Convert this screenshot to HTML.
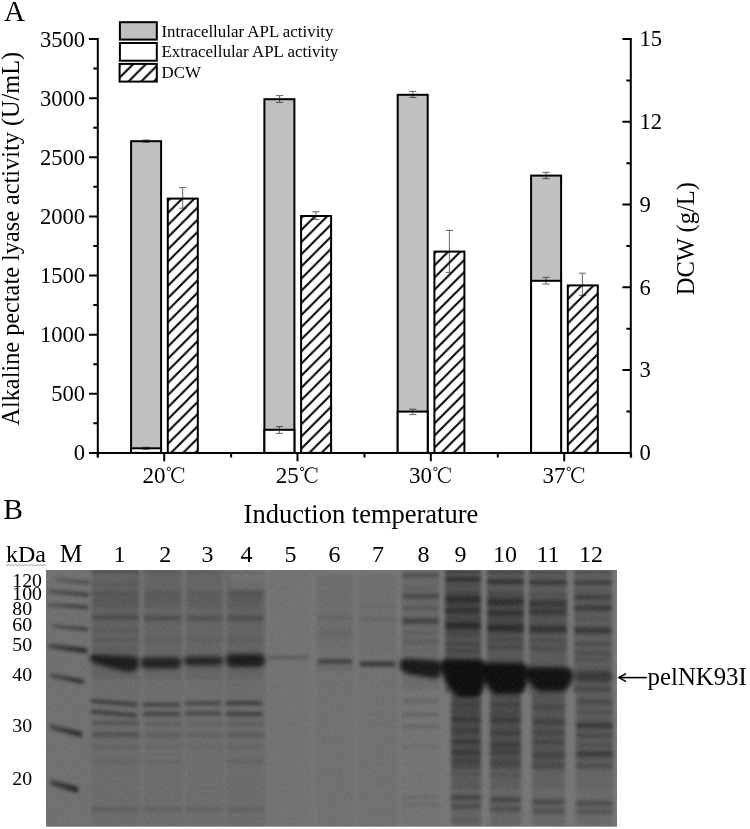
<!DOCTYPE html><html><head><meta charset="utf-8"><style>html,body{margin:0;padding:0;background:#fff;width:750px;height:829px;overflow:hidden}svg{display:block;will-change:transform}text{font-family:"Liberation Serif",serif;fill:#000}</style></head><body>
<svg width="750" height="829" viewBox="0 0 750 829">
<defs>
<pattern id="hat0" patternUnits="userSpaceOnUse" width="12.7" height="12.7" x="6.800" y="0"><rect width="12.7" height="12.7" fill="#fff"/><path d="M-3,3 L3,-3 M0,12.7 L12.7,0 M9.7,15.7 L15.7,9.7" stroke="#000" stroke-width="2.0"/></pattern>
<pattern id="hat1" patternUnits="userSpaceOnUse" width="12.15" height="12.15" x="4.200" y="0"><rect width="12.15" height="12.15" fill="#fff"/><path d="M-3,3 L3,-3 M0,12.15 L12.15,0 M9.15,15.15 L15.15,9.15" stroke="#000" stroke-width="2.0"/></pattern>
<pattern id="hat2" patternUnits="userSpaceOnUse" width="12.15" height="12.15" x="8.850" y="0"><rect width="12.15" height="12.15" fill="#fff"/><path d="M-3,3 L3,-3 M0,12.15 L12.15,0 M9.15,15.15 L15.15,9.15" stroke="#000" stroke-width="2.0"/></pattern>
<pattern id="hat3" patternUnits="userSpaceOnUse" width="12.15" height="12.15" x="7.350" y="0"><rect width="12.15" height="12.15" fill="#fff"/><path d="M-3,3 L3,-3 M0,12.15 L12.15,0 M9.15,15.15 L15.15,9.15" stroke="#000" stroke-width="2.0"/></pattern>
<pattern id="hat4" patternUnits="userSpaceOnUse" width="12.15" height="12.15" x="4.250" y="0"><rect width="12.15" height="12.15" fill="#fff"/><path d="M-3,3 L3,-3 M0,12.15 L12.15,0 M9.15,15.15 L15.15,9.15" stroke="#000" stroke-width="2.0"/></pattern>
</defs>
<text x="4" y="21.2" font-size="29.2">A</text>
<rect x="131.10" y="141.20" width="30.00" height="311.70" fill="#c0c0c0" stroke="#000" stroke-width="2"/>
<rect x="131.10" y="448.30" width="30.00" height="4.60" fill="#fff" stroke="#000" stroke-width="2"/>
<rect x="167.80" y="198.60" width="30.00" height="254.30" fill="url(#hat1)" stroke="#000" stroke-width="2"/>
<rect x="264.40" y="99.20" width="30.00" height="353.70" fill="#c0c0c0" stroke="#000" stroke-width="2"/>
<rect x="264.40" y="429.80" width="30.00" height="23.10" fill="#fff" stroke="#000" stroke-width="2"/>
<rect x="301.10" y="216.00" width="30.00" height="236.90" fill="url(#hat2)" stroke="#000" stroke-width="2"/>
<rect x="397.70" y="94.80" width="30.00" height="358.10" fill="#c0c0c0" stroke="#000" stroke-width="2"/>
<rect x="397.70" y="411.60" width="30.00" height="41.30" fill="#fff" stroke="#000" stroke-width="2"/>
<rect x="434.40" y="251.60" width="30.00" height="201.30" fill="url(#hat3)" stroke="#000" stroke-width="2"/>
<rect x="531.10" y="175.60" width="30.00" height="277.30" fill="#c0c0c0" stroke="#000" stroke-width="2"/>
<rect x="531.10" y="280.80" width="30.00" height="172.10" fill="#fff" stroke="#000" stroke-width="2"/>
<rect x="567.80" y="285.40" width="30.00" height="167.50" fill="url(#hat4)" stroke="#000" stroke-width="2"/>
<path d="M142.50,140.00H149.70M146.10,140.00V142.20M142.50,142.20H149.70" stroke="#666" stroke-width="1" fill="none" style="mix-blend-mode:multiply"/>
<path d="M276.00,95.60H283.20M279.60,95.60V102.40M276.00,102.40H283.20" stroke="#666" stroke-width="1" fill="none" style="mix-blend-mode:multiply"/>
<path d="M409.20,91.40H416.40M412.80,91.40V97.40M409.20,97.40H416.40" stroke="#666" stroke-width="1" fill="none" style="mix-blend-mode:multiply"/>
<path d="M542.40,172.40H549.60M546.00,172.40V178.60M542.40,178.60H549.60" stroke="#666" stroke-width="1" fill="none" style="mix-blend-mode:multiply"/>
<path d="M142.50,447.30H149.70M146.10,447.30V449.30M142.50,449.30H149.70" stroke="#666" stroke-width="1" fill="none" style="mix-blend-mode:multiply"/>
<path d="M275.80,426.60H283.00M279.40,426.60V433.40M275.80,433.40H283.00" stroke="#666" stroke-width="1" fill="none" style="mix-blend-mode:multiply"/>
<path d="M409.20,409.20H416.40M412.80,409.20V414.60M409.20,414.60H416.40" stroke="#666" stroke-width="1" fill="none" style="mix-blend-mode:multiply"/>
<path d="M542.40,277.40H549.60M546.00,277.40V284.00M542.40,284.00H549.60" stroke="#666" stroke-width="1" fill="none" style="mix-blend-mode:multiply"/>
<path d="M179.10,187.60H186.30M182.70,187.60V208.20M179.10,208.20H186.30" stroke="#666" stroke-width="1" fill="none" style="mix-blend-mode:multiply"/>
<path d="M312.20,211.80H319.40M315.80,211.80V219.40M312.20,219.40H319.40" stroke="#666" stroke-width="1" fill="none" style="mix-blend-mode:multiply"/>
<path d="M445.80,230.40H453.00M449.40,230.40V272.40M445.80,272.40H453.00" stroke="#666" stroke-width="1" fill="none" style="mix-blend-mode:multiply"/>
<path d="M578.80,273.20H586.00M582.40,273.20V295.40M578.80,295.40H586.00" stroke="#666" stroke-width="1" fill="none" style="mix-blend-mode:multiply"/>
<path d="M97.8,38.0 V457.59999999999997 M630.8,38.0 V457.59999999999997 M89 452.9 H631.8" stroke="#000" stroke-width="2" fill="none"/>
<path d="M89,452.90H97.8 M93.3,423.34H97.8 M89,393.77H97.8 M93.3,364.21H97.8 M89,334.64H97.8 M93.3,305.08H97.8 M89,275.51H97.8 M93.3,245.95H97.8 M89,216.39H97.8 M93.3,186.82H97.8 M89,157.26H97.8 M93.3,127.69H97.8 M89,98.13H97.8 M93.3,68.56H97.8 M89,39.00H97.8 M622.4,452.90H630.8 M626.4,411.51H630.8 M622.4,370.12H630.8 M626.4,328.73H630.8 M622.4,287.34H630.8 M626.4,245.95H630.8 M622.4,204.56H630.8 M626.4,163.17H630.8 M622.4,121.78H630.8 M626.4,80.39H630.8 M622.4,39.00H630.8 M164.2,452.9V461.3 M297.5,452.9V461.3 M430.8,452.9V461.3 M564.2,452.9V461.3 M97.80,452.9V457.6 M231.13,452.9V457.6 M364.46,452.9V457.6 M497.79,452.9V457.6 M631.12,452.9V457.6" stroke="#000" stroke-width="2" fill="none"/>
<text x="85.1" y="460.40" font-size="22.6" text-anchor="end">0</text>
<text x="85.1" y="401.27" font-size="22.6" text-anchor="end">500</text>
<text x="85.1" y="342.14" font-size="22.6" text-anchor="end">1000</text>
<text x="85.1" y="283.01" font-size="22.6" text-anchor="end">1500</text>
<text x="85.1" y="223.89" font-size="22.6" text-anchor="end">2000</text>
<text x="85.1" y="164.76" font-size="22.6" text-anchor="end">2500</text>
<text x="85.1" y="105.63" font-size="22.6" text-anchor="end">3000</text>
<text x="85.1" y="46.50" font-size="22.6" text-anchor="end">3500</text>
<text x="639.4" y="460.20" font-size="22.6">0</text>
<text x="639.4" y="377.42" font-size="22.6">3</text>
<text x="639.4" y="294.64" font-size="22.6">6</text>
<text x="639.4" y="211.86" font-size="22.6">9</text>
<text x="639.4" y="129.08" font-size="22.6">12</text>
<text x="639.4" y="46.30" font-size="22.6">15</text>
<text x="142.50" y="483.3" font-size="23">20</text>
<circle cx="168.80" cy="468.95" r="1.7" fill="none" stroke="#000" stroke-width="0.85"/>
<path d="M183.19,469.06 L182.41,468.43 L181.55,467.93 L180.64,467.55 L179.70,467.31 L178.73,467.20 L177.76,467.24 L176.80,467.42 L175.87,467.73 L174.99,468.18 L174.17,468.75 L173.43,469.43 L172.77,470.22 L172.22,471.09 L171.78,472.04 L171.46,473.04 L171.27,474.07 L171.20,475.13 L171.26,476.19 L171.45,477.23 L171.77,478.23 L172.20,479.17 L172.75,480.05 L173.40,480.84 L174.14,481.53 L174.96,482.10 L175.84,482.55 L176.76,482.87 L177.72,483.05 L178.69,483.10 L179.66,483.00 L180.61,482.76 L181.52,482.39 L182.38,481.89 L183.17,481.26 L183.87,480.54 L184.48,479.71 L183.82,479.19 L183.33,479.93 L182.75,480.57 L182.11,481.12 L181.41,481.57 L180.67,481.90 L179.90,482.11 L179.11,482.20 L178.32,482.16 L177.54,482.00 L176.78,481.71 L176.06,481.31 L175.40,480.80 L174.79,480.20 L174.26,479.50 L173.82,478.72 L173.46,477.88 L173.21,476.99 L173.05,476.07 L173.00,475.13 L173.05,474.20 L173.21,473.28 L173.48,472.39 L173.83,471.55 L174.28,470.78 L174.81,470.08 L175.42,469.47 L176.09,468.97 L176.81,468.57 L177.56,468.29 L178.35,468.14 L179.14,468.10 L179.93,468.20 L180.70,468.41 L181.44,468.75 L182.13,469.19 L182.77,469.75Z" fill="#000"/>
<path d="M183.65,467.6 V472.6" stroke="#000" stroke-width="0.9"/>
<text x="275.80" y="483.3" font-size="23">25</text>
<circle cx="302.10" cy="468.95" r="1.7" fill="none" stroke="#000" stroke-width="0.85"/>
<path d="M316.49,469.06 L315.71,468.43 L314.85,467.93 L313.94,467.55 L313.00,467.31 L312.03,467.20 L311.06,467.24 L310.10,467.42 L309.17,467.73 L308.29,468.18 L307.47,468.75 L306.73,469.43 L306.07,470.22 L305.52,471.09 L305.08,472.04 L304.76,473.04 L304.57,474.07 L304.50,475.13 L304.56,476.19 L304.75,477.23 L305.07,478.23 L305.50,479.17 L306.05,480.05 L306.70,480.84 L307.44,481.53 L308.26,482.10 L309.14,482.55 L310.06,482.87 L311.02,483.05 L311.99,483.10 L312.96,483.00 L313.91,482.76 L314.82,482.39 L315.68,481.89 L316.47,481.26 L317.17,480.54 L317.78,479.71 L317.12,479.19 L316.63,479.93 L316.05,480.57 L315.41,481.12 L314.71,481.57 L313.97,481.90 L313.20,482.11 L312.41,482.20 L311.62,482.16 L310.84,482.00 L310.08,481.71 L309.36,481.31 L308.70,480.80 L308.09,480.20 L307.56,479.50 L307.12,478.72 L306.76,477.88 L306.51,476.99 L306.35,476.07 L306.30,475.13 L306.35,474.20 L306.51,473.28 L306.78,472.39 L307.13,471.55 L307.58,470.78 L308.11,470.08 L308.72,469.47 L309.39,468.97 L310.11,468.57 L310.86,468.29 L311.65,468.14 L312.44,468.10 L313.23,468.20 L314.00,468.41 L314.74,468.75 L315.43,469.19 L316.07,469.75Z" fill="#000"/>
<path d="M316.95,467.6 V472.6" stroke="#000" stroke-width="0.9"/>
<text x="409.10" y="483.3" font-size="23">30</text>
<circle cx="435.40" cy="468.95" r="1.7" fill="none" stroke="#000" stroke-width="0.85"/>
<path d="M449.79,469.06 L449.01,468.43 L448.15,467.93 L447.24,467.55 L446.30,467.31 L445.33,467.20 L444.36,467.24 L443.40,467.42 L442.47,467.73 L441.59,468.18 L440.77,468.75 L440.03,469.43 L439.37,470.22 L438.82,471.09 L438.38,472.04 L438.06,473.04 L437.87,474.07 L437.80,475.13 L437.86,476.19 L438.05,477.23 L438.37,478.23 L438.80,479.17 L439.35,480.05 L440.00,480.84 L440.74,481.53 L441.56,482.10 L442.44,482.55 L443.36,482.87 L444.32,483.05 L445.29,483.10 L446.26,483.00 L447.21,482.76 L448.12,482.39 L448.98,481.89 L449.77,481.26 L450.47,480.54 L451.08,479.71 L450.42,479.19 L449.93,479.93 L449.35,480.57 L448.71,481.12 L448.01,481.57 L447.27,481.90 L446.50,482.11 L445.71,482.20 L444.92,482.16 L444.14,482.00 L443.38,481.71 L442.66,481.31 L442.00,480.80 L441.39,480.20 L440.86,479.50 L440.42,478.72 L440.06,477.88 L439.81,476.99 L439.65,476.07 L439.60,475.13 L439.65,474.20 L439.81,473.28 L440.08,472.39 L440.43,471.55 L440.88,470.78 L441.41,470.08 L442.02,469.47 L442.69,468.97 L443.41,468.57 L444.16,468.29 L444.95,468.14 L445.74,468.10 L446.53,468.20 L447.30,468.41 L448.04,468.75 L448.73,469.19 L449.37,469.75Z" fill="#000"/>
<path d="M450.25,467.6 V472.6" stroke="#000" stroke-width="0.9"/>
<text x="542.50" y="483.3" font-size="23">37</text>
<circle cx="568.80" cy="468.95" r="1.7" fill="none" stroke="#000" stroke-width="0.85"/>
<path d="M583.19,469.06 L582.41,468.43 L581.55,467.93 L580.64,467.55 L579.70,467.31 L578.73,467.20 L577.76,467.24 L576.80,467.42 L575.87,467.73 L574.99,468.18 L574.17,468.75 L573.43,469.43 L572.77,470.22 L572.22,471.09 L571.78,472.04 L571.46,473.04 L571.27,474.07 L571.20,475.13 L571.26,476.19 L571.45,477.23 L571.77,478.23 L572.20,479.17 L572.75,480.05 L573.40,480.84 L574.14,481.53 L574.96,482.10 L575.84,482.55 L576.76,482.87 L577.72,483.05 L578.69,483.10 L579.66,483.00 L580.61,482.76 L581.52,482.39 L582.38,481.89 L583.17,481.26 L583.87,480.54 L584.48,479.71 L583.82,479.19 L583.33,479.93 L582.75,480.57 L582.11,481.12 L581.41,481.57 L580.67,481.90 L579.90,482.11 L579.11,482.20 L578.32,482.16 L577.54,482.00 L576.78,481.71 L576.06,481.31 L575.40,480.80 L574.79,480.20 L574.26,479.50 L573.82,478.72 L573.46,477.88 L573.21,476.99 L573.05,476.07 L573.00,475.13 L573.05,474.20 L573.21,473.28 L573.48,472.39 L573.83,471.55 L574.28,470.78 L574.81,470.08 L575.42,469.47 L576.09,468.97 L576.81,468.57 L577.56,468.29 L578.35,468.14 L579.14,468.10 L579.93,468.20 L580.70,468.41 L581.44,468.75 L582.13,469.19 L582.77,469.75Z" fill="#000"/>
<path d="M583.65,467.6 V472.6" stroke="#000" stroke-width="0.9"/>
<text x="243.6" y="523" font-size="26.5">Induction temperature</text>
<text transform="translate(18.9,425.6) rotate(-90)" font-size="24.3">Alkaline pectate lyase activity (U/mL)</text>
<text transform="translate(693.6,295.3) rotate(-90)" font-size="24.5">DCW (g/L)</text>
<rect x="119.9" y="22.2" width="36.9" height="17.4" fill="#c0c0c0" stroke="#000" stroke-width="2"/>
<rect x="119.9" y="43" width="36.9" height="17.7" fill="#fff" stroke="#000" stroke-width="2"/>
<rect x="119.6" y="63.9" width="37.2" height="17.7" fill="url(#hat0)" stroke="#000" stroke-width="2"/>
<text x="161.5" y="37" font-size="16.9">Intracellular APL activity</text>
<text x="161.5" y="57.3" font-size="16.9">Extracellular APL activity</text>
<text x="161.5" y="77.7" font-size="16.9">DCW</text>
<text x="3.3" y="518.6" font-size="29.6">B</text>
<defs><filter id="bl" x="-10%" y="-50%" width="120%" height="200%"><feGaussianBlur stdDeviation="1.4"/></filter><filter id="blh" x="-20%" y="0%" width="140%" height="100%"><feGaussianBlur stdDeviation="1.6 0.01"/></filter><filter id="blb" x="-20%" y="-50%" width="140%" height="200%"><feGaussianBlur stdDeviation="1.9"/></filter><filter id="gb"><feGaussianBlur stdDeviation="0.8"/></filter><linearGradient id="mk" x1="0" x2="1" y1="0" y2="0"><stop offset="0" stop-opacity="0.55"/><stop offset="0.7" stop-opacity="0.9"/><stop offset="1" stop-opacity="1"/></linearGradient><filter id="nz" x="0" y="0" width="100%" height="100%" color-interpolation-filters="sRGB"><feTurbulence type="fractalNoise" baseFrequency="0.5 0.3" numOctaves="2" seed="11"/><feColorMatrix type="matrix" values="0 0 0 0 0  0 0 0 0 0  0 0 0 0 0  1.0 0 0 0 -0.42"/></filter><filter id="nzw" x="0" y="0" width="100%" height="100%" color-interpolation-filters="sRGB"><feTurbulence type="fractalNoise" baseFrequency="0.5 0.3" numOctaves="2" seed="23"/><feColorMatrix type="matrix" values="0 0 0 0 1  0 0 0 0 1  0 0 0 0 1  1.0 0 0 0 -0.42"/></filter><clipPath id="gclip"><rect x="46" y="570" width="571" height="256.7"/></clipPath><linearGradient id="lg1" x1="0" y1="570" x2="0" y2="826.7" gradientUnits="userSpaceOnUse"><stop offset="0.0039" stop-opacity="0.296"/><stop offset="0.0078" stop-opacity="0.296"/><stop offset="0.0117" stop-opacity="0.219"/><stop offset="0.0156" stop-opacity="0.157"/><stop offset="0.0195" stop-opacity="0.136"/><stop offset="0.0234" stop-opacity="0.133"/><stop offset="0.0273" stop-opacity="0.133"/><stop offset="0.0312" stop-opacity="0.133"/><stop offset="0.0351" stop-opacity="0.133"/><stop offset="0.0390" stop-opacity="0.135"/><stop offset="0.0429" stop-opacity="0.142"/><stop offset="0.0467" stop-opacity="0.162"/><stop offset="0.0506" stop-opacity="0.189"/><stop offset="0.0545" stop-opacity="0.204"/><stop offset="0.0584" stop-opacity="0.190"/><stop offset="0.0623" stop-opacity="0.162"/><stop offset="0.0662" stop-opacity="0.144"/><stop offset="0.0701" stop-opacity="0.141"/><stop offset="0.0740" stop-opacity="0.150"/><stop offset="0.0779" stop-opacity="0.170"/><stop offset="0.0818" stop-opacity="0.200"/><stop offset="0.0857" stop-opacity="0.232"/><stop offset="0.0896" stop-opacity="0.254"/><stop offset="0.0935" stop-opacity="0.254"/><stop offset="0.0974" stop-opacity="0.235"/><stop offset="0.1013" stop-opacity="0.210"/><stop offset="0.1052" stop-opacity="0.199"/><stop offset="0.1091" stop-opacity="0.210"/><stop offset="0.1130" stop-opacity="0.231"/><stop offset="0.1169" stop-opacity="0.241"/><stop offset="0.1208" stop-opacity="0.227"/><stop offset="0.1247" stop-opacity="0.200"/><stop offset="0.1286" stop-opacity="0.187"/><stop offset="0.1325" stop-opacity="0.201"/><stop offset="0.1363" stop-opacity="0.221"/><stop offset="0.1402" stop-opacity="0.215"/><stop offset="0.1441" stop-opacity="0.183"/><stop offset="0.1480" stop-opacity="0.152"/><stop offset="0.1519" stop-opacity="0.138"/><stop offset="0.1558" stop-opacity="0.134"/><stop offset="0.1597" stop-opacity="0.134"/><stop offset="0.1636" stop-opacity="0.138"/><stop offset="0.1675" stop-opacity="0.152"/><stop offset="0.1714" stop-opacity="0.183"/><stop offset="0.1753" stop-opacity="0.236"/><stop offset="0.1792" stop-opacity="0.299"/><stop offset="0.1831" stop-opacity="0.341"/><stop offset="0.1870" stop-opacity="0.336"/><stop offset="0.1909" stop-opacity="0.287"/><stop offset="0.1948" stop-opacity="0.224"/><stop offset="0.1987" stop-opacity="0.175"/><stop offset="0.2026" stop-opacity="0.148"/><stop offset="0.2065" stop-opacity="0.137"/><stop offset="0.2104" stop-opacity="0.134"/><stop offset="0.2143" stop-opacity="0.133"/><stop offset="0.2182" stop-opacity="0.133"/><stop offset="0.2220" stop-opacity="0.135"/><stop offset="0.2259" stop-opacity="0.142"/><stop offset="0.2298" stop-opacity="0.162"/><stop offset="0.2337" stop-opacity="0.189"/><stop offset="0.2376" stop-opacity="0.204"/><stop offset="0.2415" stop-opacity="0.189"/><stop offset="0.2454" stop-opacity="0.162"/><stop offset="0.2493" stop-opacity="0.142"/><stop offset="0.2532" stop-opacity="0.135"/><stop offset="0.2571" stop-opacity="0.136"/><stop offset="0.2610" stop-opacity="0.147"/><stop offset="0.2649" stop-opacity="0.170"/><stop offset="0.2688" stop-opacity="0.196"/><stop offset="0.2727" stop-opacity="0.202"/><stop offset="0.2766" stop-opacity="0.181"/><stop offset="0.2805" stop-opacity="0.155"/><stop offset="0.2844" stop-opacity="0.139"/><stop offset="0.2883" stop-opacity="0.134"/><stop offset="0.2922" stop-opacity="0.126"/><stop offset="0.2961" stop-opacity="0.133"/><stop offset="0.3000" stop-opacity="0.153"/><stop offset="0.3039" stop-opacity="0.181"/><stop offset="0.3078" stop-opacity="0.195"/><stop offset="0.3116" stop-opacity="0.181"/><stop offset="0.3155" stop-opacity="0.153"/><stop offset="0.3194" stop-opacity="0.133"/><stop offset="0.3233" stop-opacity="0.126"/><stop offset="0.3272" stop-opacity="0.124"/><stop offset="0.3311" stop-opacity="0.124"/><stop offset="0.3350" stop-opacity="0.124"/><stop offset="0.3389" stop-opacity="0.124"/><stop offset="0.3428" stop-opacity="0.124"/><stop offset="0.3467" stop-opacity="0.124"/><stop offset="0.3506" stop-opacity="0.124"/><stop offset="0.3545" stop-opacity="0.124"/><stop offset="0.3584" stop-opacity="0.124"/><stop offset="0.3623" stop-opacity="0.124"/><stop offset="0.3662" stop-opacity="0.124"/><stop offset="0.3701" stop-opacity="0.124"/><stop offset="0.3740" stop-opacity="0.124"/><stop offset="0.3779" stop-opacity="0.124"/><stop offset="0.3818" stop-opacity="0.124"/><stop offset="0.3857" stop-opacity="0.124"/><stop offset="0.3896" stop-opacity="0.124"/><stop offset="0.3935" stop-opacity="0.124"/><stop offset="0.3974" stop-opacity="0.124"/><stop offset="0.4012" stop-opacity="0.124"/><stop offset="0.4051" stop-opacity="0.124"/><stop offset="0.4090" stop-opacity="0.124"/><stop offset="0.4129" stop-opacity="0.124"/><stop offset="0.4168" stop-opacity="0.124"/><stop offset="0.4207" stop-opacity="0.124"/><stop offset="0.4246" stop-opacity="0.124"/><stop offset="0.4285" stop-opacity="0.044"/><stop offset="0.4324" stop-opacity="0.044"/><stop offset="0.4363" stop-opacity="0.044"/><stop offset="0.4402" stop-opacity="0.044"/><stop offset="0.4441" stop-opacity="0.044"/><stop offset="0.4480" stop-opacity="0.044"/><stop offset="0.4519" stop-opacity="0.044"/><stop offset="0.4558" stop-opacity="0.044"/><stop offset="0.4597" stop-opacity="0.044"/><stop offset="0.4636" stop-opacity="0.044"/><stop offset="0.4675" stop-opacity="0.044"/><stop offset="0.4714" stop-opacity="0.044"/><stop offset="0.4753" stop-opacity="0.044"/><stop offset="0.4792" stop-opacity="0.044"/><stop offset="0.4831" stop-opacity="0.044"/><stop offset="0.4869" stop-opacity="0.044"/><stop offset="0.4908" stop-opacity="0.044"/><stop offset="0.4947" stop-opacity="0.044"/><stop offset="0.4986" stop-opacity="0.044"/><stop offset="0.5025" stop-opacity="0.044"/><stop offset="0.5064" stop-opacity="0.044"/><stop offset="0.5103" stop-opacity="0.044"/><stop offset="0.5142" stop-opacity="0.044"/><stop offset="0.5181" stop-opacity="0.044"/><stop offset="0.5220" stop-opacity="0.044"/><stop offset="0.5259" stop-opacity="0.044"/><stop offset="0.5298" stop-opacity="0.044"/><stop offset="0.5337" stop-opacity="0.044"/><stop offset="0.5376" stop-opacity="0.044"/><stop offset="0.5415" stop-opacity="0.044"/><stop offset="0.5454" stop-opacity="0.044"/><stop offset="0.5493" stop-opacity="0.044"/><stop offset="0.5532" stop-opacity="0.044"/><stop offset="0.5571" stop-opacity="0.044"/><stop offset="0.5610" stop-opacity="0.044"/><stop offset="0.5649" stop-opacity="0.044"/><stop offset="0.5688" stop-opacity="0.044"/><stop offset="0.5727" stop-opacity="0.045"/><stop offset="0.5765" stop-opacity="0.050"/><stop offset="0.5804" stop-opacity="0.064"/><stop offset="0.5843" stop-opacity="0.098"/><stop offset="0.5882" stop-opacity="0.154"/><stop offset="0.5921" stop-opacity="0.213"/><stop offset="0.5960" stop-opacity="0.239"/><stop offset="0.5999" stop-opacity="0.213"/><stop offset="0.6038" stop-opacity="0.155"/><stop offset="0.6077" stop-opacity="0.099"/><stop offset="0.6116" stop-opacity="0.065"/><stop offset="0.6155" stop-opacity="0.053"/><stop offset="0.6194" stop-opacity="0.057"/><stop offset="0.6233" stop-opacity="0.076"/><stop offset="0.6272" stop-opacity="0.113"/><stop offset="0.6311" stop-opacity="0.168"/><stop offset="0.6350" stop-opacity="0.228"/><stop offset="0.6389" stop-opacity="0.269"/><stop offset="0.6428" stop-opacity="0.269"/><stop offset="0.6467" stop-opacity="0.228"/><stop offset="0.6506" stop-opacity="0.168"/><stop offset="0.6545" stop-opacity="0.113"/><stop offset="0.6584" stop-opacity="0.075"/><stop offset="0.6623" stop-opacity="0.056"/><stop offset="0.6661" stop-opacity="0.048"/><stop offset="0.6700" stop-opacity="0.046"/><stop offset="0.6739" stop-opacity="0.049"/><stop offset="0.6778" stop-opacity="0.060"/><stop offset="0.6817" stop-opacity="0.086"/><stop offset="0.6856" stop-opacity="0.117"/><stop offset="0.6895" stop-opacity="0.133"/><stop offset="0.6934" stop-opacity="0.117"/><stop offset="0.6973" stop-opacity="0.086"/><stop offset="0.7012" stop-opacity="0.060"/><stop offset="0.7051" stop-opacity="0.049"/><stop offset="0.7090" stop-opacity="0.045"/><stop offset="0.7129" stop-opacity="0.044"/><stop offset="0.7168" stop-opacity="0.044"/><stop offset="0.7207" stop-opacity="0.044"/><stop offset="0.7246" stop-opacity="0.044"/><stop offset="0.7285" stop-opacity="0.045"/><stop offset="0.7324" stop-opacity="0.048"/><stop offset="0.7363" stop-opacity="0.059"/><stop offset="0.7402" stop-opacity="0.082"/><stop offset="0.7441" stop-opacity="0.110"/><stop offset="0.7480" stop-opacity="0.124"/><stop offset="0.7519" stop-opacity="0.110"/><stop offset="0.7557" stop-opacity="0.082"/><stop offset="0.7596" stop-opacity="0.059"/><stop offset="0.7635" stop-opacity="0.048"/><stop offset="0.7674" stop-opacity="0.045"/><stop offset="0.7713" stop-opacity="0.044"/><stop offset="0.7752" stop-opacity="0.044"/><stop offset="0.7791" stop-opacity="0.044"/><stop offset="0.7830" stop-opacity="0.044"/><stop offset="0.7869" stop-opacity="0.044"/><stop offset="0.7908" stop-opacity="0.044"/><stop offset="0.7947" stop-opacity="0.044"/><stop offset="0.7986" stop-opacity="0.044"/><stop offset="0.8025" stop-opacity="0.044"/><stop offset="0.8064" stop-opacity="0.044"/><stop offset="0.8103" stop-opacity="0.044"/><stop offset="0.8142" stop-opacity="0.044"/><stop offset="0.8181" stop-opacity="0.044"/><stop offset="0.8220" stop-opacity="0.044"/><stop offset="0.8259" stop-opacity="0.044"/><stop offset="0.8298" stop-opacity="0.044"/><stop offset="0.8337" stop-opacity="0.044"/><stop offset="0.8376" stop-opacity="0.044"/><stop offset="0.8414" stop-opacity="0.044"/><stop offset="0.8453" stop-opacity="0.044"/><stop offset="0.8492" stop-opacity="0.044"/><stop offset="0.8531" stop-opacity="0.044"/><stop offset="0.8570" stop-opacity="0.044"/><stop offset="0.8609" stop-opacity="0.044"/><stop offset="0.8648" stop-opacity="0.044"/><stop offset="0.8687" stop-opacity="0.044"/><stop offset="0.8726" stop-opacity="0.044"/><stop offset="0.8765" stop-opacity="0.044"/><stop offset="0.8804" stop-opacity="0.044"/><stop offset="0.8843" stop-opacity="0.044"/><stop offset="0.8882" stop-opacity="0.044"/><stop offset="0.8921" stop-opacity="0.044"/><stop offset="0.8960" stop-opacity="0.044"/><stop offset="0.8999" stop-opacity="0.044"/><stop offset="0.9038" stop-opacity="0.044"/><stop offset="0.9077" stop-opacity="0.045"/><stop offset="0.9116" stop-opacity="0.047"/><stop offset="0.9155" stop-opacity="0.054"/><stop offset="0.9194" stop-opacity="0.071"/><stop offset="0.9233" stop-opacity="0.101"/><stop offset="0.9272" stop-opacity="0.138"/><stop offset="0.9310" stop-opacity="0.164"/><stop offset="0.9349" stop-opacity="0.164"/><stop offset="0.9388" stop-opacity="0.138"/><stop offset="0.9427" stop-opacity="0.101"/><stop offset="0.9466" stop-opacity="0.071"/><stop offset="0.9505" stop-opacity="0.054"/><stop offset="0.9544" stop-opacity="0.047"/><stop offset="0.9583" stop-opacity="0.045"/><stop offset="0.9622" stop-opacity="0.044"/><stop offset="0.9661" stop-opacity="0.044"/><stop offset="0.9700" stop-opacity="0.044"/><stop offset="0.9739" stop-opacity="0.044"/><stop offset="0.9778" stop-opacity="0.044"/><stop offset="0.9817" stop-opacity="0.044"/><stop offset="0.9856" stop-opacity="0.044"/><stop offset="0.9895" stop-opacity="0.044"/><stop offset="0.9934" stop-opacity="0.044"/><stop offset="0.9973" stop-opacity="0.044"/><stop offset="1.0012" stop-opacity="0.000"/></linearGradient><linearGradient id="lg2" x1="0" y1="570" x2="0" y2="826.7" gradientUnits="userSpaceOnUse"><stop offset="0.0039" stop-opacity="0.213"/><stop offset="0.0078" stop-opacity="0.213"/><stop offset="0.0117" stop-opacity="0.167"/><stop offset="0.0156" stop-opacity="0.129"/><stop offset="0.0195" stop-opacity="0.117"/><stop offset="0.0234" stop-opacity="0.115"/><stop offset="0.0273" stop-opacity="0.115"/><stop offset="0.0312" stop-opacity="0.115"/><stop offset="0.0351" stop-opacity="0.115"/><stop offset="0.0390" stop-opacity="0.115"/><stop offset="0.0429" stop-opacity="0.115"/><stop offset="0.0467" stop-opacity="0.115"/><stop offset="0.0506" stop-opacity="0.115"/><stop offset="0.0545" stop-opacity="0.115"/><stop offset="0.0584" stop-opacity="0.115"/><stop offset="0.0623" stop-opacity="0.115"/><stop offset="0.0662" stop-opacity="0.117"/><stop offset="0.0701" stop-opacity="0.120"/><stop offset="0.0740" stop-opacity="0.129"/><stop offset="0.0779" stop-opacity="0.147"/><stop offset="0.0818" stop-opacity="0.172"/><stop offset="0.0857" stop-opacity="0.200"/><stop offset="0.0896" stop-opacity="0.219"/><stop offset="0.0935" stop-opacity="0.219"/><stop offset="0.0974" stop-opacity="0.203"/><stop offset="0.1013" stop-opacity="0.181"/><stop offset="0.1052" stop-opacity="0.171"/><stop offset="0.1091" stop-opacity="0.180"/><stop offset="0.1130" stop-opacity="0.197"/><stop offset="0.1169" stop-opacity="0.205"/><stop offset="0.1208" stop-opacity="0.193"/><stop offset="0.1247" stop-opacity="0.171"/><stop offset="0.1286" stop-opacity="0.159"/><stop offset="0.1325" stop-opacity="0.170"/><stop offset="0.1363" stop-opacity="0.186"/><stop offset="0.1402" stop-opacity="0.181"/><stop offset="0.1441" stop-opacity="0.155"/><stop offset="0.1480" stop-opacity="0.131"/><stop offset="0.1519" stop-opacity="0.119"/><stop offset="0.1558" stop-opacity="0.116"/><stop offset="0.1597" stop-opacity="0.116"/><stop offset="0.1636" stop-opacity="0.117"/><stop offset="0.1675" stop-opacity="0.124"/><stop offset="0.1714" stop-opacity="0.141"/><stop offset="0.1753" stop-opacity="0.178"/><stop offset="0.1792" stop-opacity="0.233"/><stop offset="0.1831" stop-opacity="0.287"/><stop offset="0.1870" stop-opacity="0.310"/><stop offset="0.1909" stop-opacity="0.287"/><stop offset="0.1948" stop-opacity="0.233"/><stop offset="0.1987" stop-opacity="0.178"/><stop offset="0.2026" stop-opacity="0.141"/><stop offset="0.2065" stop-opacity="0.124"/><stop offset="0.2104" stop-opacity="0.117"/><stop offset="0.2143" stop-opacity="0.115"/><stop offset="0.2182" stop-opacity="0.115"/><stop offset="0.2220" stop-opacity="0.115"/><stop offset="0.2259" stop-opacity="0.115"/><stop offset="0.2298" stop-opacity="0.115"/><stop offset="0.2337" stop-opacity="0.115"/><stop offset="0.2376" stop-opacity="0.115"/><stop offset="0.2415" stop-opacity="0.115"/><stop offset="0.2454" stop-opacity="0.115"/><stop offset="0.2493" stop-opacity="0.115"/><stop offset="0.2532" stop-opacity="0.115"/><stop offset="0.2571" stop-opacity="0.117"/><stop offset="0.2610" stop-opacity="0.122"/><stop offset="0.2649" stop-opacity="0.137"/><stop offset="0.2688" stop-opacity="0.158"/><stop offset="0.2727" stop-opacity="0.168"/><stop offset="0.2766" stop-opacity="0.158"/><stop offset="0.2805" stop-opacity="0.137"/><stop offset="0.2844" stop-opacity="0.122"/><stop offset="0.2883" stop-opacity="0.117"/><stop offset="0.2922" stop-opacity="0.106"/><stop offset="0.2961" stop-opacity="0.106"/><stop offset="0.3000" stop-opacity="0.106"/><stop offset="0.3039" stop-opacity="0.106"/><stop offset="0.3078" stop-opacity="0.106"/><stop offset="0.3116" stop-opacity="0.106"/><stop offset="0.3155" stop-opacity="0.106"/><stop offset="0.3194" stop-opacity="0.106"/><stop offset="0.3233" stop-opacity="0.106"/><stop offset="0.3272" stop-opacity="0.106"/><stop offset="0.3311" stop-opacity="0.106"/><stop offset="0.3350" stop-opacity="0.106"/><stop offset="0.3389" stop-opacity="0.106"/><stop offset="0.3428" stop-opacity="0.106"/><stop offset="0.3467" stop-opacity="0.106"/><stop offset="0.3506" stop-opacity="0.106"/><stop offset="0.3545" stop-opacity="0.106"/><stop offset="0.3584" stop-opacity="0.106"/><stop offset="0.3623" stop-opacity="0.106"/><stop offset="0.3662" stop-opacity="0.106"/><stop offset="0.3701" stop-opacity="0.106"/><stop offset="0.3740" stop-opacity="0.106"/><stop offset="0.3779" stop-opacity="0.106"/><stop offset="0.3818" stop-opacity="0.106"/><stop offset="0.3857" stop-opacity="0.106"/><stop offset="0.3896" stop-opacity="0.106"/><stop offset="0.3935" stop-opacity="0.106"/><stop offset="0.3974" stop-opacity="0.106"/><stop offset="0.4012" stop-opacity="0.106"/><stop offset="0.4051" stop-opacity="0.106"/><stop offset="0.4090" stop-opacity="0.106"/><stop offset="0.4129" stop-opacity="0.106"/><stop offset="0.4168" stop-opacity="0.106"/><stop offset="0.4207" stop-opacity="0.106"/><stop offset="0.4246" stop-opacity="0.106"/><stop offset="0.4285" stop-opacity="0.035"/><stop offset="0.4324" stop-opacity="0.035"/><stop offset="0.4363" stop-opacity="0.035"/><stop offset="0.4402" stop-opacity="0.035"/><stop offset="0.4441" stop-opacity="0.035"/><stop offset="0.4480" stop-opacity="0.035"/><stop offset="0.4519" stop-opacity="0.035"/><stop offset="0.4558" stop-opacity="0.035"/><stop offset="0.4597" stop-opacity="0.035"/><stop offset="0.4636" stop-opacity="0.035"/><stop offset="0.4675" stop-opacity="0.035"/><stop offset="0.4714" stop-opacity="0.035"/><stop offset="0.4753" stop-opacity="0.035"/><stop offset="0.4792" stop-opacity="0.035"/><stop offset="0.4831" stop-opacity="0.035"/><stop offset="0.4869" stop-opacity="0.035"/><stop offset="0.4908" stop-opacity="0.035"/><stop offset="0.4947" stop-opacity="0.035"/><stop offset="0.4986" stop-opacity="0.035"/><stop offset="0.5025" stop-opacity="0.035"/><stop offset="0.5064" stop-opacity="0.035"/><stop offset="0.5103" stop-opacity="0.035"/><stop offset="0.5142" stop-opacity="0.035"/><stop offset="0.5181" stop-opacity="0.035"/><stop offset="0.5220" stop-opacity="0.035"/><stop offset="0.5259" stop-opacity="0.035"/><stop offset="0.5298" stop-opacity="0.035"/><stop offset="0.5337" stop-opacity="0.035"/><stop offset="0.5376" stop-opacity="0.035"/><stop offset="0.5415" stop-opacity="0.035"/><stop offset="0.5454" stop-opacity="0.035"/><stop offset="0.5493" stop-opacity="0.035"/><stop offset="0.5532" stop-opacity="0.035"/><stop offset="0.5571" stop-opacity="0.035"/><stop offset="0.5610" stop-opacity="0.035"/><stop offset="0.5649" stop-opacity="0.035"/><stop offset="0.5688" stop-opacity="0.035"/><stop offset="0.5727" stop-opacity="0.035"/><stop offset="0.5765" stop-opacity="0.036"/><stop offset="0.5804" stop-opacity="0.038"/><stop offset="0.5843" stop-opacity="0.046"/><stop offset="0.5882" stop-opacity="0.065"/><stop offset="0.5921" stop-opacity="0.096"/><stop offset="0.5960" stop-opacity="0.128"/><stop offset="0.5999" stop-opacity="0.142"/><stop offset="0.6038" stop-opacity="0.128"/><stop offset="0.6077" stop-opacity="0.096"/><stop offset="0.6116" stop-opacity="0.065"/><stop offset="0.6155" stop-opacity="0.047"/><stop offset="0.6194" stop-opacity="0.042"/><stop offset="0.6233" stop-opacity="0.047"/><stop offset="0.6272" stop-opacity="0.061"/><stop offset="0.6311" stop-opacity="0.086"/><stop offset="0.6350" stop-opacity="0.119"/><stop offset="0.6389" stop-opacity="0.148"/><stop offset="0.6428" stop-opacity="0.159"/><stop offset="0.6467" stop-opacity="0.148"/><stop offset="0.6506" stop-opacity="0.119"/><stop offset="0.6545" stop-opacity="0.086"/><stop offset="0.6584" stop-opacity="0.061"/><stop offset="0.6623" stop-opacity="0.046"/><stop offset="0.6661" stop-opacity="0.039"/><stop offset="0.6700" stop-opacity="0.037"/><stop offset="0.6739" stop-opacity="0.039"/><stop offset="0.6778" stop-opacity="0.047"/><stop offset="0.6817" stop-opacity="0.064"/><stop offset="0.6856" stop-opacity="0.087"/><stop offset="0.6895" stop-opacity="0.097"/><stop offset="0.6934" stop-opacity="0.087"/><stop offset="0.6973" stop-opacity="0.064"/><stop offset="0.7012" stop-opacity="0.047"/><stop offset="0.7051" stop-opacity="0.038"/><stop offset="0.7090" stop-opacity="0.036"/><stop offset="0.7129" stop-opacity="0.035"/><stop offset="0.7168" stop-opacity="0.035"/><stop offset="0.7207" stop-opacity="0.035"/><stop offset="0.7246" stop-opacity="0.035"/><stop offset="0.7285" stop-opacity="0.036"/><stop offset="0.7324" stop-opacity="0.038"/><stop offset="0.7363" stop-opacity="0.047"/><stop offset="0.7402" stop-opacity="0.064"/><stop offset="0.7441" stop-opacity="0.087"/><stop offset="0.7480" stop-opacity="0.097"/><stop offset="0.7519" stop-opacity="0.087"/><stop offset="0.7557" stop-opacity="0.064"/><stop offset="0.7596" stop-opacity="0.047"/><stop offset="0.7635" stop-opacity="0.038"/><stop offset="0.7674" stop-opacity="0.036"/><stop offset="0.7713" stop-opacity="0.035"/><stop offset="0.7752" stop-opacity="0.035"/><stop offset="0.7791" stop-opacity="0.035"/><stop offset="0.7830" stop-opacity="0.035"/><stop offset="0.7869" stop-opacity="0.035"/><stop offset="0.7908" stop-opacity="0.035"/><stop offset="0.7947" stop-opacity="0.035"/><stop offset="0.7986" stop-opacity="0.035"/><stop offset="0.8025" stop-opacity="0.035"/><stop offset="0.8064" stop-opacity="0.035"/><stop offset="0.8103" stop-opacity="0.035"/><stop offset="0.8142" stop-opacity="0.035"/><stop offset="0.8181" stop-opacity="0.035"/><stop offset="0.8220" stop-opacity="0.035"/><stop offset="0.8259" stop-opacity="0.035"/><stop offset="0.8298" stop-opacity="0.035"/><stop offset="0.8337" stop-opacity="0.035"/><stop offset="0.8376" stop-opacity="0.035"/><stop offset="0.8414" stop-opacity="0.035"/><stop offset="0.8453" stop-opacity="0.035"/><stop offset="0.8492" stop-opacity="0.035"/><stop offset="0.8531" stop-opacity="0.035"/><stop offset="0.8570" stop-opacity="0.035"/><stop offset="0.8609" stop-opacity="0.035"/><stop offset="0.8648" stop-opacity="0.035"/><stop offset="0.8687" stop-opacity="0.035"/><stop offset="0.8726" stop-opacity="0.035"/><stop offset="0.8765" stop-opacity="0.035"/><stop offset="0.8804" stop-opacity="0.035"/><stop offset="0.8843" stop-opacity="0.035"/><stop offset="0.8882" stop-opacity="0.035"/><stop offset="0.8921" stop-opacity="0.035"/><stop offset="0.8960" stop-opacity="0.035"/><stop offset="0.8999" stop-opacity="0.035"/><stop offset="0.9038" stop-opacity="0.035"/><stop offset="0.9077" stop-opacity="0.036"/><stop offset="0.9116" stop-opacity="0.038"/><stop offset="0.9155" stop-opacity="0.043"/><stop offset="0.9194" stop-opacity="0.056"/><stop offset="0.9233" stop-opacity="0.080"/><stop offset="0.9272" stop-opacity="0.109"/><stop offset="0.9310" stop-opacity="0.130"/><stop offset="0.9349" stop-opacity="0.130"/><stop offset="0.9388" stop-opacity="0.109"/><stop offset="0.9427" stop-opacity="0.080"/><stop offset="0.9466" stop-opacity="0.056"/><stop offset="0.9505" stop-opacity="0.043"/><stop offset="0.9544" stop-opacity="0.038"/><stop offset="0.9583" stop-opacity="0.036"/><stop offset="0.9622" stop-opacity="0.035"/><stop offset="0.9661" stop-opacity="0.035"/><stop offset="0.9700" stop-opacity="0.035"/><stop offset="0.9739" stop-opacity="0.035"/><stop offset="0.9778" stop-opacity="0.035"/><stop offset="0.9817" stop-opacity="0.035"/><stop offset="0.9856" stop-opacity="0.035"/><stop offset="0.9895" stop-opacity="0.035"/><stop offset="0.9934" stop-opacity="0.035"/><stop offset="0.9973" stop-opacity="0.035"/><stop offset="1.0012" stop-opacity="0.000"/></linearGradient><linearGradient id="lg3" x1="0" y1="570" x2="0" y2="826.7" gradientUnits="userSpaceOnUse"><stop offset="0.0039" stop-opacity="0.188"/><stop offset="0.0078" stop-opacity="0.188"/><stop offset="0.0117" stop-opacity="0.149"/><stop offset="0.0156" stop-opacity="0.118"/><stop offset="0.0195" stop-opacity="0.108"/><stop offset="0.0234" stop-opacity="0.106"/><stop offset="0.0273" stop-opacity="0.106"/><stop offset="0.0312" stop-opacity="0.106"/><stop offset="0.0351" stop-opacity="0.106"/><stop offset="0.0390" stop-opacity="0.106"/><stop offset="0.0429" stop-opacity="0.106"/><stop offset="0.0467" stop-opacity="0.106"/><stop offset="0.0506" stop-opacity="0.106"/><stop offset="0.0545" stop-opacity="0.106"/><stop offset="0.0584" stop-opacity="0.106"/><stop offset="0.0623" stop-opacity="0.107"/><stop offset="0.0662" stop-opacity="0.108"/><stop offset="0.0701" stop-opacity="0.111"/><stop offset="0.0740" stop-opacity="0.118"/><stop offset="0.0779" stop-opacity="0.133"/><stop offset="0.0818" stop-opacity="0.154"/><stop offset="0.0857" stop-opacity="0.177"/><stop offset="0.0896" stop-opacity="0.193"/><stop offset="0.0935" stop-opacity="0.193"/><stop offset="0.0974" stop-opacity="0.179"/><stop offset="0.1013" stop-opacity="0.162"/><stop offset="0.1052" stop-opacity="0.155"/><stop offset="0.1091" stop-opacity="0.163"/><stop offset="0.1130" stop-opacity="0.180"/><stop offset="0.1169" stop-opacity="0.187"/><stop offset="0.1208" stop-opacity="0.177"/><stop offset="0.1247" stop-opacity="0.157"/><stop offset="0.1286" stop-opacity="0.148"/><stop offset="0.1325" stop-opacity="0.160"/><stop offset="0.1363" stop-opacity="0.177"/><stop offset="0.1402" stop-opacity="0.172"/><stop offset="0.1441" stop-opacity="0.146"/><stop offset="0.1480" stop-opacity="0.122"/><stop offset="0.1519" stop-opacity="0.110"/><stop offset="0.1558" stop-opacity="0.107"/><stop offset="0.1597" stop-opacity="0.107"/><stop offset="0.1636" stop-opacity="0.108"/><stop offset="0.1675" stop-opacity="0.114"/><stop offset="0.1714" stop-opacity="0.130"/><stop offset="0.1753" stop-opacity="0.164"/><stop offset="0.1792" stop-opacity="0.214"/><stop offset="0.1831" stop-opacity="0.262"/><stop offset="0.1870" stop-opacity="0.283"/><stop offset="0.1909" stop-opacity="0.262"/><stop offset="0.1948" stop-opacity="0.214"/><stop offset="0.1987" stop-opacity="0.164"/><stop offset="0.2026" stop-opacity="0.130"/><stop offset="0.2065" stop-opacity="0.114"/><stop offset="0.2104" stop-opacity="0.108"/><stop offset="0.2143" stop-opacity="0.107"/><stop offset="0.2182" stop-opacity="0.106"/><stop offset="0.2220" stop-opacity="0.106"/><stop offset="0.2259" stop-opacity="0.106"/><stop offset="0.2298" stop-opacity="0.106"/><stop offset="0.2337" stop-opacity="0.106"/><stop offset="0.2376" stop-opacity="0.106"/><stop offset="0.2415" stop-opacity="0.106"/><stop offset="0.2454" stop-opacity="0.106"/><stop offset="0.2493" stop-opacity="0.106"/><stop offset="0.2532" stop-opacity="0.106"/><stop offset="0.2571" stop-opacity="0.108"/><stop offset="0.2610" stop-opacity="0.113"/><stop offset="0.2649" stop-opacity="0.128"/><stop offset="0.2688" stop-opacity="0.149"/><stop offset="0.2727" stop-opacity="0.159"/><stop offset="0.2766" stop-opacity="0.149"/><stop offset="0.2805" stop-opacity="0.128"/><stop offset="0.2844" stop-opacity="0.113"/><stop offset="0.2883" stop-opacity="0.108"/><stop offset="0.2922" stop-opacity="0.098"/><stop offset="0.2961" stop-opacity="0.097"/><stop offset="0.3000" stop-opacity="0.097"/><stop offset="0.3039" stop-opacity="0.097"/><stop offset="0.3078" stop-opacity="0.097"/><stop offset="0.3116" stop-opacity="0.097"/><stop offset="0.3155" stop-opacity="0.097"/><stop offset="0.3194" stop-opacity="0.097"/><stop offset="0.3233" stop-opacity="0.097"/><stop offset="0.3272" stop-opacity="0.097"/><stop offset="0.3311" stop-opacity="0.097"/><stop offset="0.3350" stop-opacity="0.097"/><stop offset="0.3389" stop-opacity="0.097"/><stop offset="0.3428" stop-opacity="0.097"/><stop offset="0.3467" stop-opacity="0.097"/><stop offset="0.3506" stop-opacity="0.097"/><stop offset="0.3545" stop-opacity="0.097"/><stop offset="0.3584" stop-opacity="0.097"/><stop offset="0.3623" stop-opacity="0.097"/><stop offset="0.3662" stop-opacity="0.097"/><stop offset="0.3701" stop-opacity="0.097"/><stop offset="0.3740" stop-opacity="0.097"/><stop offset="0.3779" stop-opacity="0.097"/><stop offset="0.3818" stop-opacity="0.097"/><stop offset="0.3857" stop-opacity="0.097"/><stop offset="0.3896" stop-opacity="0.097"/><stop offset="0.3935" stop-opacity="0.097"/><stop offset="0.3974" stop-opacity="0.097"/><stop offset="0.4012" stop-opacity="0.097"/><stop offset="0.4051" stop-opacity="0.097"/><stop offset="0.4090" stop-opacity="0.097"/><stop offset="0.4129" stop-opacity="0.097"/><stop offset="0.4168" stop-opacity="0.097"/><stop offset="0.4207" stop-opacity="0.097"/><stop offset="0.4246" stop-opacity="0.097"/><stop offset="0.4285" stop-opacity="0.027"/><stop offset="0.4324" stop-opacity="0.027"/><stop offset="0.4363" stop-opacity="0.027"/><stop offset="0.4402" stop-opacity="0.027"/><stop offset="0.4441" stop-opacity="0.027"/><stop offset="0.4480" stop-opacity="0.027"/><stop offset="0.4519" stop-opacity="0.027"/><stop offset="0.4558" stop-opacity="0.027"/><stop offset="0.4597" stop-opacity="0.027"/><stop offset="0.4636" stop-opacity="0.027"/><stop offset="0.4675" stop-opacity="0.027"/><stop offset="0.4714" stop-opacity="0.027"/><stop offset="0.4753" stop-opacity="0.027"/><stop offset="0.4792" stop-opacity="0.027"/><stop offset="0.4831" stop-opacity="0.027"/><stop offset="0.4869" stop-opacity="0.027"/><stop offset="0.4908" stop-opacity="0.027"/><stop offset="0.4947" stop-opacity="0.027"/><stop offset="0.4986" stop-opacity="0.027"/><stop offset="0.5025" stop-opacity="0.027"/><stop offset="0.5064" stop-opacity="0.027"/><stop offset="0.5103" stop-opacity="0.027"/><stop offset="0.5142" stop-opacity="0.027"/><stop offset="0.5181" stop-opacity="0.027"/><stop offset="0.5220" stop-opacity="0.027"/><stop offset="0.5259" stop-opacity="0.027"/><stop offset="0.5298" stop-opacity="0.027"/><stop offset="0.5337" stop-opacity="0.027"/><stop offset="0.5376" stop-opacity="0.027"/><stop offset="0.5415" stop-opacity="0.027"/><stop offset="0.5454" stop-opacity="0.027"/><stop offset="0.5493" stop-opacity="0.027"/><stop offset="0.5532" stop-opacity="0.027"/><stop offset="0.5571" stop-opacity="0.027"/><stop offset="0.5610" stop-opacity="0.027"/><stop offset="0.5649" stop-opacity="0.027"/><stop offset="0.5688" stop-opacity="0.027"/><stop offset="0.5727" stop-opacity="0.027"/><stop offset="0.5765" stop-opacity="0.027"/><stop offset="0.5804" stop-opacity="0.029"/><stop offset="0.5843" stop-opacity="0.037"/><stop offset="0.5882" stop-opacity="0.054"/><stop offset="0.5921" stop-opacity="0.082"/><stop offset="0.5960" stop-opacity="0.111"/><stop offset="0.5999" stop-opacity="0.124"/><stop offset="0.6038" stop-opacity="0.111"/><stop offset="0.6077" stop-opacity="0.082"/><stop offset="0.6116" stop-opacity="0.054"/><stop offset="0.6155" stop-opacity="0.037"/><stop offset="0.6194" stop-opacity="0.032"/><stop offset="0.6233" stop-opacity="0.036"/><stop offset="0.6272" stop-opacity="0.049"/><stop offset="0.6311" stop-opacity="0.070"/><stop offset="0.6350" stop-opacity="0.098"/><stop offset="0.6389" stop-opacity="0.123"/><stop offset="0.6428" stop-opacity="0.133"/><stop offset="0.6467" stop-opacity="0.123"/><stop offset="0.6506" stop-opacity="0.098"/><stop offset="0.6545" stop-opacity="0.070"/><stop offset="0.6584" stop-opacity="0.048"/><stop offset="0.6623" stop-opacity="0.036"/><stop offset="0.6661" stop-opacity="0.030"/><stop offset="0.6700" stop-opacity="0.028"/><stop offset="0.6739" stop-opacity="0.030"/><stop offset="0.6778" stop-opacity="0.038"/><stop offset="0.6817" stop-opacity="0.056"/><stop offset="0.6856" stop-opacity="0.078"/><stop offset="0.6895" stop-opacity="0.088"/><stop offset="0.6934" stop-opacity="0.078"/><stop offset="0.6973" stop-opacity="0.056"/><stop offset="0.7012" stop-opacity="0.038"/><stop offset="0.7051" stop-opacity="0.030"/><stop offset="0.7090" stop-opacity="0.027"/><stop offset="0.7129" stop-opacity="0.027"/><stop offset="0.7168" stop-opacity="0.027"/><stop offset="0.7207" stop-opacity="0.027"/><stop offset="0.7246" stop-opacity="0.027"/><stop offset="0.7285" stop-opacity="0.027"/><stop offset="0.7324" stop-opacity="0.027"/><stop offset="0.7363" stop-opacity="0.027"/><stop offset="0.7402" stop-opacity="0.027"/><stop offset="0.7441" stop-opacity="0.027"/><stop offset="0.7480" stop-opacity="0.027"/><stop offset="0.7519" stop-opacity="0.027"/><stop offset="0.7557" stop-opacity="0.027"/><stop offset="0.7596" stop-opacity="0.027"/><stop offset="0.7635" stop-opacity="0.027"/><stop offset="0.7674" stop-opacity="0.027"/><stop offset="0.7713" stop-opacity="0.027"/><stop offset="0.7752" stop-opacity="0.027"/><stop offset="0.7791" stop-opacity="0.027"/><stop offset="0.7830" stop-opacity="0.027"/><stop offset="0.7869" stop-opacity="0.027"/><stop offset="0.7908" stop-opacity="0.027"/><stop offset="0.7947" stop-opacity="0.027"/><stop offset="0.7986" stop-opacity="0.027"/><stop offset="0.8025" stop-opacity="0.027"/><stop offset="0.8064" stop-opacity="0.027"/><stop offset="0.8103" stop-opacity="0.027"/><stop offset="0.8142" stop-opacity="0.027"/><stop offset="0.8181" stop-opacity="0.027"/><stop offset="0.8220" stop-opacity="0.027"/><stop offset="0.8259" stop-opacity="0.027"/><stop offset="0.8298" stop-opacity="0.027"/><stop offset="0.8337" stop-opacity="0.027"/><stop offset="0.8376" stop-opacity="0.027"/><stop offset="0.8414" stop-opacity="0.027"/><stop offset="0.8453" stop-opacity="0.027"/><stop offset="0.8492" stop-opacity="0.027"/><stop offset="0.8531" stop-opacity="0.027"/><stop offset="0.8570" stop-opacity="0.027"/><stop offset="0.8609" stop-opacity="0.027"/><stop offset="0.8648" stop-opacity="0.027"/><stop offset="0.8687" stop-opacity="0.027"/><stop offset="0.8726" stop-opacity="0.027"/><stop offset="0.8765" stop-opacity="0.027"/><stop offset="0.8804" stop-opacity="0.027"/><stop offset="0.8843" stop-opacity="0.027"/><stop offset="0.8882" stop-opacity="0.027"/><stop offset="0.8921" stop-opacity="0.027"/><stop offset="0.8960" stop-opacity="0.027"/><stop offset="0.8999" stop-opacity="0.027"/><stop offset="0.9038" stop-opacity="0.027"/><stop offset="0.9077" stop-opacity="0.027"/><stop offset="0.9116" stop-opacity="0.029"/><stop offset="0.9155" stop-opacity="0.034"/><stop offset="0.9194" stop-opacity="0.048"/><stop offset="0.9233" stop-opacity="0.071"/><stop offset="0.9272" stop-opacity="0.100"/><stop offset="0.9310" stop-opacity="0.121"/><stop offset="0.9349" stop-opacity="0.121"/><stop offset="0.9388" stop-opacity="0.100"/><stop offset="0.9427" stop-opacity="0.071"/><stop offset="0.9466" stop-opacity="0.048"/><stop offset="0.9505" stop-opacity="0.034"/><stop offset="0.9544" stop-opacity="0.029"/><stop offset="0.9583" stop-opacity="0.027"/><stop offset="0.9622" stop-opacity="0.027"/><stop offset="0.9661" stop-opacity="0.027"/><stop offset="0.9700" stop-opacity="0.027"/><stop offset="0.9739" stop-opacity="0.027"/><stop offset="0.9778" stop-opacity="0.027"/><stop offset="0.9817" stop-opacity="0.027"/><stop offset="0.9856" stop-opacity="0.027"/><stop offset="0.9895" stop-opacity="0.027"/><stop offset="0.9934" stop-opacity="0.027"/><stop offset="0.9973" stop-opacity="0.027"/><stop offset="1.0012" stop-opacity="0.000"/></linearGradient><linearGradient id="lg4" x1="0" y1="570" x2="0" y2="826.7" gradientUnits="userSpaceOnUse"><stop offset="0.0039" stop-opacity="0.222"/><stop offset="0.0078" stop-opacity="0.222"/><stop offset="0.0117" stop-opacity="0.176"/><stop offset="0.0156" stop-opacity="0.138"/><stop offset="0.0195" stop-opacity="0.126"/><stop offset="0.0234" stop-opacity="0.124"/><stop offset="0.0273" stop-opacity="0.124"/><stop offset="0.0312" stop-opacity="0.124"/><stop offset="0.0351" stop-opacity="0.124"/><stop offset="0.0390" stop-opacity="0.125"/><stop offset="0.0429" stop-opacity="0.131"/><stop offset="0.0467" stop-opacity="0.146"/><stop offset="0.0506" stop-opacity="0.166"/><stop offset="0.0545" stop-opacity="0.177"/><stop offset="0.0584" stop-opacity="0.167"/><stop offset="0.0623" stop-opacity="0.146"/><stop offset="0.0662" stop-opacity="0.133"/><stop offset="0.0701" stop-opacity="0.132"/><stop offset="0.0740" stop-opacity="0.141"/><stop offset="0.0779" stop-opacity="0.161"/><stop offset="0.0818" stop-opacity="0.191"/><stop offset="0.0857" stop-opacity="0.223"/><stop offset="0.0896" stop-opacity="0.245"/><stop offset="0.0935" stop-opacity="0.245"/><stop offset="0.0974" stop-opacity="0.226"/><stop offset="0.1013" stop-opacity="0.200"/><stop offset="0.1052" stop-opacity="0.185"/><stop offset="0.1091" stop-opacity="0.191"/><stop offset="0.1130" stop-opacity="0.207"/><stop offset="0.1169" stop-opacity="0.214"/><stop offset="0.1208" stop-opacity="0.202"/><stop offset="0.1247" stop-opacity="0.180"/><stop offset="0.1286" stop-opacity="0.168"/><stop offset="0.1325" stop-opacity="0.179"/><stop offset="0.1363" stop-opacity="0.195"/><stop offset="0.1402" stop-opacity="0.190"/><stop offset="0.1441" stop-opacity="0.164"/><stop offset="0.1480" stop-opacity="0.140"/><stop offset="0.1519" stop-opacity="0.128"/><stop offset="0.1558" stop-opacity="0.125"/><stop offset="0.1597" stop-opacity="0.124"/><stop offset="0.1636" stop-opacity="0.126"/><stop offset="0.1675" stop-opacity="0.132"/><stop offset="0.1714" stop-opacity="0.150"/><stop offset="0.1753" stop-opacity="0.187"/><stop offset="0.1792" stop-opacity="0.242"/><stop offset="0.1831" stop-opacity="0.296"/><stop offset="0.1870" stop-opacity="0.319"/><stop offset="0.1909" stop-opacity="0.296"/><stop offset="0.1948" stop-opacity="0.242"/><stop offset="0.1987" stop-opacity="0.187"/><stop offset="0.2026" stop-opacity="0.150"/><stop offset="0.2065" stop-opacity="0.132"/><stop offset="0.2104" stop-opacity="0.126"/><stop offset="0.2143" stop-opacity="0.124"/><stop offset="0.2182" stop-opacity="0.124"/><stop offset="0.2220" stop-opacity="0.124"/><stop offset="0.2259" stop-opacity="0.124"/><stop offset="0.2298" stop-opacity="0.124"/><stop offset="0.2337" stop-opacity="0.124"/><stop offset="0.2376" stop-opacity="0.124"/><stop offset="0.2415" stop-opacity="0.124"/><stop offset="0.2454" stop-opacity="0.124"/><stop offset="0.2493" stop-opacity="0.124"/><stop offset="0.2532" stop-opacity="0.124"/><stop offset="0.2571" stop-opacity="0.126"/><stop offset="0.2610" stop-opacity="0.132"/><stop offset="0.2649" stop-opacity="0.149"/><stop offset="0.2688" stop-opacity="0.173"/><stop offset="0.2727" stop-opacity="0.186"/><stop offset="0.2766" stop-opacity="0.173"/><stop offset="0.2805" stop-opacity="0.149"/><stop offset="0.2844" stop-opacity="0.132"/><stop offset="0.2883" stop-opacity="0.126"/><stop offset="0.2922" stop-opacity="0.115"/><stop offset="0.2961" stop-opacity="0.115"/><stop offset="0.3000" stop-opacity="0.115"/><stop offset="0.3039" stop-opacity="0.115"/><stop offset="0.3078" stop-opacity="0.115"/><stop offset="0.3116" stop-opacity="0.115"/><stop offset="0.3155" stop-opacity="0.115"/><stop offset="0.3194" stop-opacity="0.115"/><stop offset="0.3233" stop-opacity="0.115"/><stop offset="0.3272" stop-opacity="0.115"/><stop offset="0.3311" stop-opacity="0.115"/><stop offset="0.3350" stop-opacity="0.115"/><stop offset="0.3389" stop-opacity="0.115"/><stop offset="0.3428" stop-opacity="0.115"/><stop offset="0.3467" stop-opacity="0.115"/><stop offset="0.3506" stop-opacity="0.115"/><stop offset="0.3545" stop-opacity="0.115"/><stop offset="0.3584" stop-opacity="0.115"/><stop offset="0.3623" stop-opacity="0.115"/><stop offset="0.3662" stop-opacity="0.115"/><stop offset="0.3701" stop-opacity="0.115"/><stop offset="0.3740" stop-opacity="0.115"/><stop offset="0.3779" stop-opacity="0.115"/><stop offset="0.3818" stop-opacity="0.115"/><stop offset="0.3857" stop-opacity="0.115"/><stop offset="0.3896" stop-opacity="0.115"/><stop offset="0.3935" stop-opacity="0.115"/><stop offset="0.3974" stop-opacity="0.115"/><stop offset="0.4012" stop-opacity="0.115"/><stop offset="0.4051" stop-opacity="0.115"/><stop offset="0.4090" stop-opacity="0.115"/><stop offset="0.4129" stop-opacity="0.115"/><stop offset="0.4168" stop-opacity="0.115"/><stop offset="0.4207" stop-opacity="0.115"/><stop offset="0.4246" stop-opacity="0.115"/><stop offset="0.4285" stop-opacity="0.044"/><stop offset="0.4324" stop-opacity="0.044"/><stop offset="0.4363" stop-opacity="0.044"/><stop offset="0.4402" stop-opacity="0.044"/><stop offset="0.4441" stop-opacity="0.044"/><stop offset="0.4480" stop-opacity="0.044"/><stop offset="0.4519" stop-opacity="0.044"/><stop offset="0.4558" stop-opacity="0.044"/><stop offset="0.4597" stop-opacity="0.044"/><stop offset="0.4636" stop-opacity="0.044"/><stop offset="0.4675" stop-opacity="0.044"/><stop offset="0.4714" stop-opacity="0.044"/><stop offset="0.4753" stop-opacity="0.044"/><stop offset="0.4792" stop-opacity="0.044"/><stop offset="0.4831" stop-opacity="0.044"/><stop offset="0.4869" stop-opacity="0.044"/><stop offset="0.4908" stop-opacity="0.044"/><stop offset="0.4947" stop-opacity="0.044"/><stop offset="0.4986" stop-opacity="0.044"/><stop offset="0.5025" stop-opacity="0.044"/><stop offset="0.5064" stop-opacity="0.044"/><stop offset="0.5103" stop-opacity="0.044"/><stop offset="0.5142" stop-opacity="0.044"/><stop offset="0.5181" stop-opacity="0.044"/><stop offset="0.5220" stop-opacity="0.044"/><stop offset="0.5259" stop-opacity="0.044"/><stop offset="0.5298" stop-opacity="0.044"/><stop offset="0.5337" stop-opacity="0.044"/><stop offset="0.5376" stop-opacity="0.044"/><stop offset="0.5415" stop-opacity="0.044"/><stop offset="0.5454" stop-opacity="0.044"/><stop offset="0.5493" stop-opacity="0.044"/><stop offset="0.5532" stop-opacity="0.044"/><stop offset="0.5571" stop-opacity="0.044"/><stop offset="0.5610" stop-opacity="0.044"/><stop offset="0.5649" stop-opacity="0.044"/><stop offset="0.5688" stop-opacity="0.044"/><stop offset="0.5727" stop-opacity="0.044"/><stop offset="0.5765" stop-opacity="0.045"/><stop offset="0.5804" stop-opacity="0.048"/><stop offset="0.5843" stop-opacity="0.057"/><stop offset="0.5882" stop-opacity="0.079"/><stop offset="0.5921" stop-opacity="0.114"/><stop offset="0.5960" stop-opacity="0.152"/><stop offset="0.5999" stop-opacity="0.168"/><stop offset="0.6038" stop-opacity="0.152"/><stop offset="0.6077" stop-opacity="0.114"/><stop offset="0.6116" stop-opacity="0.079"/><stop offset="0.6155" stop-opacity="0.058"/><stop offset="0.6194" stop-opacity="0.052"/><stop offset="0.6233" stop-opacity="0.057"/><stop offset="0.6272" stop-opacity="0.074"/><stop offset="0.6311" stop-opacity="0.102"/><stop offset="0.6350" stop-opacity="0.140"/><stop offset="0.6389" stop-opacity="0.173"/><stop offset="0.6428" stop-opacity="0.186"/><stop offset="0.6467" stop-opacity="0.173"/><stop offset="0.6506" stop-opacity="0.140"/><stop offset="0.6545" stop-opacity="0.102"/><stop offset="0.6584" stop-opacity="0.073"/><stop offset="0.6623" stop-opacity="0.056"/><stop offset="0.6661" stop-opacity="0.048"/><stop offset="0.6700" stop-opacity="0.046"/><stop offset="0.6739" stop-opacity="0.047"/><stop offset="0.6778" stop-opacity="0.056"/><stop offset="0.6817" stop-opacity="0.073"/><stop offset="0.6856" stop-opacity="0.096"/><stop offset="0.6895" stop-opacity="0.106"/><stop offset="0.6934" stop-opacity="0.096"/><stop offset="0.6973" stop-opacity="0.073"/><stop offset="0.7012" stop-opacity="0.056"/><stop offset="0.7051" stop-opacity="0.047"/><stop offset="0.7090" stop-opacity="0.045"/><stop offset="0.7129" stop-opacity="0.044"/><stop offset="0.7168" stop-opacity="0.044"/><stop offset="0.7207" stop-opacity="0.044"/><stop offset="0.7246" stop-opacity="0.045"/><stop offset="0.7285" stop-opacity="0.046"/><stop offset="0.7324" stop-opacity="0.053"/><stop offset="0.7363" stop-opacity="0.071"/><stop offset="0.7402" stop-opacity="0.099"/><stop offset="0.7441" stop-opacity="0.122"/><stop offset="0.7480" stop-opacity="0.119"/><stop offset="0.7519" stop-opacity="0.093"/><stop offset="0.7557" stop-opacity="0.066"/><stop offset="0.7596" stop-opacity="0.051"/><stop offset="0.7635" stop-opacity="0.046"/><stop offset="0.7674" stop-opacity="0.044"/><stop offset="0.7713" stop-opacity="0.044"/><stop offset="0.7752" stop-opacity="0.044"/><stop offset="0.7791" stop-opacity="0.044"/><stop offset="0.7830" stop-opacity="0.044"/><stop offset="0.7869" stop-opacity="0.044"/><stop offset="0.7908" stop-opacity="0.044"/><stop offset="0.7947" stop-opacity="0.044"/><stop offset="0.7986" stop-opacity="0.044"/><stop offset="0.8025" stop-opacity="0.044"/><stop offset="0.8064" stop-opacity="0.044"/><stop offset="0.8103" stop-opacity="0.044"/><stop offset="0.8142" stop-opacity="0.044"/><stop offset="0.8181" stop-opacity="0.044"/><stop offset="0.8220" stop-opacity="0.044"/><stop offset="0.8259" stop-opacity="0.044"/><stop offset="0.8298" stop-opacity="0.044"/><stop offset="0.8337" stop-opacity="0.044"/><stop offset="0.8376" stop-opacity="0.044"/><stop offset="0.8414" stop-opacity="0.044"/><stop offset="0.8453" stop-opacity="0.044"/><stop offset="0.8492" stop-opacity="0.044"/><stop offset="0.8531" stop-opacity="0.044"/><stop offset="0.8570" stop-opacity="0.044"/><stop offset="0.8609" stop-opacity="0.044"/><stop offset="0.8648" stop-opacity="0.044"/><stop offset="0.8687" stop-opacity="0.044"/><stop offset="0.8726" stop-opacity="0.044"/><stop offset="0.8765" stop-opacity="0.044"/><stop offset="0.8804" stop-opacity="0.044"/><stop offset="0.8843" stop-opacity="0.044"/><stop offset="0.8882" stop-opacity="0.044"/><stop offset="0.8921" stop-opacity="0.044"/><stop offset="0.8960" stop-opacity="0.044"/><stop offset="0.8999" stop-opacity="0.044"/><stop offset="0.9038" stop-opacity="0.044"/><stop offset="0.9077" stop-opacity="0.045"/><stop offset="0.9116" stop-opacity="0.046"/><stop offset="0.9155" stop-opacity="0.052"/><stop offset="0.9194" stop-opacity="0.065"/><stop offset="0.9233" stop-opacity="0.089"/><stop offset="0.9272" stop-opacity="0.118"/><stop offset="0.9310" stop-opacity="0.139"/><stop offset="0.9349" stop-opacity="0.139"/><stop offset="0.9388" stop-opacity="0.118"/><stop offset="0.9427" stop-opacity="0.089"/><stop offset="0.9466" stop-opacity="0.065"/><stop offset="0.9505" stop-opacity="0.052"/><stop offset="0.9544" stop-opacity="0.046"/><stop offset="0.9583" stop-opacity="0.045"/><stop offset="0.9622" stop-opacity="0.044"/><stop offset="0.9661" stop-opacity="0.044"/><stop offset="0.9700" stop-opacity="0.044"/><stop offset="0.9739" stop-opacity="0.044"/><stop offset="0.9778" stop-opacity="0.044"/><stop offset="0.9817" stop-opacity="0.044"/><stop offset="0.9856" stop-opacity="0.044"/><stop offset="0.9895" stop-opacity="0.044"/><stop offset="0.9934" stop-opacity="0.044"/><stop offset="0.9973" stop-opacity="0.044"/><stop offset="1.0012" stop-opacity="0.000"/></linearGradient><linearGradient id="lg5" x1="0" y1="570" x2="0" y2="826.7" gradientUnits="userSpaceOnUse"><stop offset="0.0039" stop-opacity="0.017"/><stop offset="0.0078" stop-opacity="0.017"/><stop offset="0.0117" stop-opacity="0.017"/><stop offset="0.0156" stop-opacity="0.017"/><stop offset="0.0195" stop-opacity="0.017"/><stop offset="0.0234" stop-opacity="0.017"/><stop offset="0.0273" stop-opacity="0.017"/><stop offset="0.0312" stop-opacity="0.017"/><stop offset="0.0351" stop-opacity="0.017"/><stop offset="0.0390" stop-opacity="0.017"/><stop offset="0.0429" stop-opacity="0.017"/><stop offset="0.0467" stop-opacity="0.017"/><stop offset="0.0506" stop-opacity="0.017"/><stop offset="0.0545" stop-opacity="0.017"/><stop offset="0.0584" stop-opacity="0.017"/><stop offset="0.0623" stop-opacity="0.017"/><stop offset="0.0662" stop-opacity="0.017"/><stop offset="0.0701" stop-opacity="0.017"/><stop offset="0.0740" stop-opacity="0.017"/><stop offset="0.0779" stop-opacity="0.017"/><stop offset="0.0818" stop-opacity="0.017"/><stop offset="0.0857" stop-opacity="0.017"/><stop offset="0.0896" stop-opacity="0.017"/><stop offset="0.0935" stop-opacity="0.017"/><stop offset="0.0974" stop-opacity="0.017"/><stop offset="0.1013" stop-opacity="0.017"/><stop offset="0.1052" stop-opacity="0.017"/><stop offset="0.1091" stop-opacity="0.017"/><stop offset="0.1130" stop-opacity="0.017"/><stop offset="0.1169" stop-opacity="0.017"/><stop offset="0.1208" stop-opacity="0.017"/><stop offset="0.1247" stop-opacity="0.017"/><stop offset="0.1286" stop-opacity="0.017"/><stop offset="0.1325" stop-opacity="0.017"/><stop offset="0.1363" stop-opacity="0.017"/><stop offset="0.1402" stop-opacity="0.017"/><stop offset="0.1441" stop-opacity="0.017"/><stop offset="0.1480" stop-opacity="0.017"/><stop offset="0.1519" stop-opacity="0.017"/><stop offset="0.1558" stop-opacity="0.017"/><stop offset="0.1597" stop-opacity="0.017"/><stop offset="0.1636" stop-opacity="0.017"/><stop offset="0.1675" stop-opacity="0.017"/><stop offset="0.1714" stop-opacity="0.017"/><stop offset="0.1753" stop-opacity="0.017"/><stop offset="0.1792" stop-opacity="0.017"/><stop offset="0.1831" stop-opacity="0.017"/><stop offset="0.1870" stop-opacity="0.017"/><stop offset="0.1909" stop-opacity="0.017"/><stop offset="0.1948" stop-opacity="0.017"/><stop offset="0.1987" stop-opacity="0.017"/><stop offset="0.2026" stop-opacity="0.017"/><stop offset="0.2065" stop-opacity="0.017"/><stop offset="0.2104" stop-opacity="0.017"/><stop offset="0.2143" stop-opacity="0.017"/><stop offset="0.2182" stop-opacity="0.017"/><stop offset="0.2220" stop-opacity="0.017"/><stop offset="0.2259" stop-opacity="0.017"/><stop offset="0.2298" stop-opacity="0.017"/><stop offset="0.2337" stop-opacity="0.017"/><stop offset="0.2376" stop-opacity="0.017"/><stop offset="0.2415" stop-opacity="0.017"/><stop offset="0.2454" stop-opacity="0.017"/><stop offset="0.2493" stop-opacity="0.017"/><stop offset="0.2532" stop-opacity="0.017"/><stop offset="0.2571" stop-opacity="0.017"/><stop offset="0.2610" stop-opacity="0.017"/><stop offset="0.2649" stop-opacity="0.017"/><stop offset="0.2688" stop-opacity="0.017"/><stop offset="0.2727" stop-opacity="0.017"/><stop offset="0.2766" stop-opacity="0.017"/><stop offset="0.2805" stop-opacity="0.017"/><stop offset="0.2844" stop-opacity="0.017"/><stop offset="0.2883" stop-opacity="0.017"/><stop offset="0.2922" stop-opacity="0.017"/><stop offset="0.2961" stop-opacity="0.017"/><stop offset="0.3000" stop-opacity="0.017"/><stop offset="0.3039" stop-opacity="0.017"/><stop offset="0.3078" stop-opacity="0.017"/><stop offset="0.3116" stop-opacity="0.017"/><stop offset="0.3155" stop-opacity="0.017"/><stop offset="0.3194" stop-opacity="0.017"/><stop offset="0.3233" stop-opacity="0.017"/><stop offset="0.3272" stop-opacity="0.017"/><stop offset="0.3311" stop-opacity="0.017"/><stop offset="0.3350" stop-opacity="0.017"/><stop offset="0.3389" stop-opacity="0.017"/><stop offset="0.3428" stop-opacity="0.017"/><stop offset="0.3467" stop-opacity="0.017"/><stop offset="0.3506" stop-opacity="0.017"/><stop offset="0.3545" stop-opacity="0.017"/><stop offset="0.3584" stop-opacity="0.017"/><stop offset="0.3623" stop-opacity="0.017"/><stop offset="0.3662" stop-opacity="0.017"/><stop offset="0.3701" stop-opacity="0.017"/><stop offset="0.3740" stop-opacity="0.017"/><stop offset="0.3779" stop-opacity="0.017"/><stop offset="0.3818" stop-opacity="0.017"/><stop offset="0.3857" stop-opacity="0.017"/><stop offset="0.3896" stop-opacity="0.017"/><stop offset="0.3935" stop-opacity="0.017"/><stop offset="0.3974" stop-opacity="0.017"/><stop offset="0.4012" stop-opacity="0.017"/><stop offset="0.4051" stop-opacity="0.017"/><stop offset="0.4090" stop-opacity="0.017"/><stop offset="0.4129" stop-opacity="0.017"/><stop offset="0.4168" stop-opacity="0.017"/><stop offset="0.4207" stop-opacity="0.017"/><stop offset="0.4246" stop-opacity="0.017"/><stop offset="0.4285" stop-opacity="0.017"/><stop offset="0.4324" stop-opacity="0.017"/><stop offset="0.4363" stop-opacity="0.017"/><stop offset="0.4402" stop-opacity="0.017"/><stop offset="0.4441" stop-opacity="0.017"/><stop offset="0.4480" stop-opacity="0.017"/><stop offset="0.4519" stop-opacity="0.017"/><stop offset="0.4558" stop-opacity="0.017"/><stop offset="0.4597" stop-opacity="0.017"/><stop offset="0.4636" stop-opacity="0.017"/><stop offset="0.4675" stop-opacity="0.017"/><stop offset="0.4714" stop-opacity="0.017"/><stop offset="0.4753" stop-opacity="0.017"/><stop offset="0.4792" stop-opacity="0.017"/><stop offset="0.4831" stop-opacity="0.017"/><stop offset="0.4869" stop-opacity="0.017"/><stop offset="0.4908" stop-opacity="0.017"/><stop offset="0.4947" stop-opacity="0.017"/><stop offset="0.4986" stop-opacity="0.017"/><stop offset="0.5025" stop-opacity="0.017"/><stop offset="0.5064" stop-opacity="0.017"/><stop offset="0.5103" stop-opacity="0.017"/><stop offset="0.5142" stop-opacity="0.017"/><stop offset="0.5181" stop-opacity="0.017"/><stop offset="0.5220" stop-opacity="0.017"/><stop offset="0.5259" stop-opacity="0.017"/><stop offset="0.5298" stop-opacity="0.017"/><stop offset="0.5337" stop-opacity="0.017"/><stop offset="0.5376" stop-opacity="0.017"/><stop offset="0.5415" stop-opacity="0.017"/><stop offset="0.5454" stop-opacity="0.017"/><stop offset="0.5493" stop-opacity="0.017"/><stop offset="0.5532" stop-opacity="0.017"/><stop offset="0.5571" stop-opacity="0.017"/><stop offset="0.5610" stop-opacity="0.017"/><stop offset="0.5649" stop-opacity="0.017"/><stop offset="0.5688" stop-opacity="0.017"/><stop offset="0.5727" stop-opacity="0.017"/><stop offset="0.5765" stop-opacity="0.017"/><stop offset="0.5804" stop-opacity="0.017"/><stop offset="0.5843" stop-opacity="0.017"/><stop offset="0.5882" stop-opacity="0.017"/><stop offset="0.5921" stop-opacity="0.017"/><stop offset="0.5960" stop-opacity="0.017"/><stop offset="0.5999" stop-opacity="0.017"/><stop offset="0.6038" stop-opacity="0.017"/><stop offset="0.6077" stop-opacity="0.017"/><stop offset="0.6116" stop-opacity="0.017"/><stop offset="0.6155" stop-opacity="0.017"/><stop offset="0.6194" stop-opacity="0.017"/><stop offset="0.6233" stop-opacity="0.017"/><stop offset="0.6272" stop-opacity="0.017"/><stop offset="0.6311" stop-opacity="0.017"/><stop offset="0.6350" stop-opacity="0.017"/><stop offset="0.6389" stop-opacity="0.017"/><stop offset="0.6428" stop-opacity="0.017"/><stop offset="0.6467" stop-opacity="0.017"/><stop offset="0.6506" stop-opacity="0.017"/><stop offset="0.6545" stop-opacity="0.017"/><stop offset="0.6584" stop-opacity="0.017"/><stop offset="0.6623" stop-opacity="0.017"/><stop offset="0.6661" stop-opacity="0.017"/><stop offset="0.6700" stop-opacity="0.017"/><stop offset="0.6739" stop-opacity="0.017"/><stop offset="0.6778" stop-opacity="0.017"/><stop offset="0.6817" stop-opacity="0.017"/><stop offset="0.6856" stop-opacity="0.017"/><stop offset="0.6895" stop-opacity="0.017"/><stop offset="0.6934" stop-opacity="0.017"/><stop offset="0.6973" stop-opacity="0.017"/><stop offset="0.7012" stop-opacity="0.017"/><stop offset="0.7051" stop-opacity="0.017"/><stop offset="0.7090" stop-opacity="0.017"/><stop offset="0.7129" stop-opacity="0.017"/><stop offset="0.7168" stop-opacity="0.017"/><stop offset="0.7207" stop-opacity="0.017"/><stop offset="0.7246" stop-opacity="0.017"/><stop offset="0.7285" stop-opacity="0.017"/><stop offset="0.7324" stop-opacity="0.017"/><stop offset="0.7363" stop-opacity="0.017"/><stop offset="0.7402" stop-opacity="0.017"/><stop offset="0.7441" stop-opacity="0.017"/><stop offset="0.7480" stop-opacity="0.017"/><stop offset="0.7519" stop-opacity="0.017"/><stop offset="0.7557" stop-opacity="0.017"/><stop offset="0.7596" stop-opacity="0.017"/><stop offset="0.7635" stop-opacity="0.017"/><stop offset="0.7674" stop-opacity="0.017"/><stop offset="0.7713" stop-opacity="0.017"/><stop offset="0.7752" stop-opacity="0.017"/><stop offset="0.7791" stop-opacity="0.017"/><stop offset="0.7830" stop-opacity="0.017"/><stop offset="0.7869" stop-opacity="0.017"/><stop offset="0.7908" stop-opacity="0.017"/><stop offset="0.7947" stop-opacity="0.017"/><stop offset="0.7986" stop-opacity="0.017"/><stop offset="0.8025" stop-opacity="0.017"/><stop offset="0.8064" stop-opacity="0.017"/><stop offset="0.8103" stop-opacity="0.017"/><stop offset="0.8142" stop-opacity="0.017"/><stop offset="0.8181" stop-opacity="0.017"/><stop offset="0.8220" stop-opacity="0.017"/><stop offset="0.8259" stop-opacity="0.017"/><stop offset="0.8298" stop-opacity="0.017"/><stop offset="0.8337" stop-opacity="0.017"/><stop offset="0.8376" stop-opacity="0.017"/><stop offset="0.8414" stop-opacity="0.017"/><stop offset="0.8453" stop-opacity="0.017"/><stop offset="0.8492" stop-opacity="0.017"/><stop offset="0.8531" stop-opacity="0.017"/><stop offset="0.8570" stop-opacity="0.017"/><stop offset="0.8609" stop-opacity="0.017"/><stop offset="0.8648" stop-opacity="0.017"/><stop offset="0.8687" stop-opacity="0.017"/><stop offset="0.8726" stop-opacity="0.017"/><stop offset="0.8765" stop-opacity="0.017"/><stop offset="0.8804" stop-opacity="0.017"/><stop offset="0.8843" stop-opacity="0.017"/><stop offset="0.8882" stop-opacity="0.017"/><stop offset="0.8921" stop-opacity="0.017"/><stop offset="0.8960" stop-opacity="0.017"/><stop offset="0.8999" stop-opacity="0.017"/><stop offset="0.9038" stop-opacity="0.017"/><stop offset="0.9077" stop-opacity="0.017"/><stop offset="0.9116" stop-opacity="0.017"/><stop offset="0.9155" stop-opacity="0.017"/><stop offset="0.9194" stop-opacity="0.017"/><stop offset="0.9233" stop-opacity="0.017"/><stop offset="0.9272" stop-opacity="0.017"/><stop offset="0.9310" stop-opacity="0.017"/><stop offset="0.9349" stop-opacity="0.017"/><stop offset="0.9388" stop-opacity="0.017"/><stop offset="0.9427" stop-opacity="0.017"/><stop offset="0.9466" stop-opacity="0.017"/><stop offset="0.9505" stop-opacity="0.017"/><stop offset="0.9544" stop-opacity="0.017"/><stop offset="0.9583" stop-opacity="0.017"/><stop offset="0.9622" stop-opacity="0.017"/><stop offset="0.9661" stop-opacity="0.017"/><stop offset="0.9700" stop-opacity="0.017"/><stop offset="0.9739" stop-opacity="0.017"/><stop offset="0.9778" stop-opacity="0.017"/><stop offset="0.9817" stop-opacity="0.017"/><stop offset="0.9856" stop-opacity="0.017"/><stop offset="0.9895" stop-opacity="0.017"/><stop offset="0.9934" stop-opacity="0.017"/><stop offset="0.9973" stop-opacity="0.017"/><stop offset="1.0012" stop-opacity="0.000"/></linearGradient><linearGradient id="lg6" x1="0" y1="570" x2="0" y2="826.7" gradientUnits="userSpaceOnUse"><stop offset="0.0039" stop-opacity="0.000"/><stop offset="0.0078" stop-opacity="0.000"/><stop offset="0.0117" stop-opacity="0.000"/><stop offset="0.0156" stop-opacity="0.000"/><stop offset="0.0195" stop-opacity="0.060"/><stop offset="0.0234" stop-opacity="0.060"/><stop offset="0.0273" stop-opacity="0.060"/><stop offset="0.0312" stop-opacity="0.060"/><stop offset="0.0351" stop-opacity="0.060"/><stop offset="0.0390" stop-opacity="0.060"/><stop offset="0.0429" stop-opacity="0.060"/><stop offset="0.0467" stop-opacity="0.060"/><stop offset="0.0506" stop-opacity="0.060"/><stop offset="0.0545" stop-opacity="0.060"/><stop offset="0.0584" stop-opacity="0.060"/><stop offset="0.0623" stop-opacity="0.060"/><stop offset="0.0662" stop-opacity="0.060"/><stop offset="0.0701" stop-opacity="0.060"/><stop offset="0.0740" stop-opacity="0.060"/><stop offset="0.0779" stop-opacity="0.060"/><stop offset="0.0818" stop-opacity="0.060"/><stop offset="0.0857" stop-opacity="0.060"/><stop offset="0.0896" stop-opacity="0.060"/><stop offset="0.0935" stop-opacity="0.060"/><stop offset="0.0974" stop-opacity="0.060"/><stop offset="0.1013" stop-opacity="0.060"/><stop offset="0.1052" stop-opacity="0.060"/><stop offset="0.1091" stop-opacity="0.060"/><stop offset="0.1130" stop-opacity="0.060"/><stop offset="0.1169" stop-opacity="0.060"/><stop offset="0.1208" stop-opacity="0.060"/><stop offset="0.1247" stop-opacity="0.060"/><stop offset="0.1286" stop-opacity="0.060"/><stop offset="0.1325" stop-opacity="0.060"/><stop offset="0.1363" stop-opacity="0.060"/><stop offset="0.1402" stop-opacity="0.060"/><stop offset="0.1441" stop-opacity="0.060"/><stop offset="0.1480" stop-opacity="0.060"/><stop offset="0.1519" stop-opacity="0.060"/><stop offset="0.1558" stop-opacity="0.060"/><stop offset="0.1597" stop-opacity="0.060"/><stop offset="0.1636" stop-opacity="0.060"/><stop offset="0.1675" stop-opacity="0.061"/><stop offset="0.1714" stop-opacity="0.064"/><stop offset="0.1753" stop-opacity="0.075"/><stop offset="0.1792" stop-opacity="0.100"/><stop offset="0.1831" stop-opacity="0.131"/><stop offset="0.1870" stop-opacity="0.145"/><stop offset="0.1909" stop-opacity="0.131"/><stop offset="0.1948" stop-opacity="0.101"/><stop offset="0.1987" stop-opacity="0.077"/><stop offset="0.2026" stop-opacity="0.066"/><stop offset="0.2065" stop-opacity="0.065"/><stop offset="0.2104" stop-opacity="0.067"/><stop offset="0.2143" stop-opacity="0.071"/><stop offset="0.2182" stop-opacity="0.076"/><stop offset="0.2220" stop-opacity="0.083"/><stop offset="0.2259" stop-opacity="0.091"/><stop offset="0.2298" stop-opacity="0.099"/><stop offset="0.2337" stop-opacity="0.107"/><stop offset="0.2376" stop-opacity="0.114"/><stop offset="0.2415" stop-opacity="0.118"/><stop offset="0.2454" stop-opacity="0.120"/><stop offset="0.2493" stop-opacity="0.118"/><stop offset="0.2532" stop-opacity="0.114"/><stop offset="0.2571" stop-opacity="0.107"/><stop offset="0.2610" stop-opacity="0.099"/><stop offset="0.2649" stop-opacity="0.091"/><stop offset="0.2688" stop-opacity="0.083"/><stop offset="0.2727" stop-opacity="0.076"/><stop offset="0.2766" stop-opacity="0.071"/><stop offset="0.2805" stop-opacity="0.067"/><stop offset="0.2844" stop-opacity="0.064"/><stop offset="0.2883" stop-opacity="0.062"/><stop offset="0.2922" stop-opacity="0.061"/><stop offset="0.2961" stop-opacity="0.061"/><stop offset="0.3000" stop-opacity="0.060"/><stop offset="0.3039" stop-opacity="0.060"/><stop offset="0.3078" stop-opacity="0.060"/><stop offset="0.3116" stop-opacity="0.034"/><stop offset="0.3155" stop-opacity="0.034"/><stop offset="0.3194" stop-opacity="0.034"/><stop offset="0.3233" stop-opacity="0.034"/><stop offset="0.3272" stop-opacity="0.034"/><stop offset="0.3311" stop-opacity="0.034"/><stop offset="0.3350" stop-opacity="0.034"/><stop offset="0.3389" stop-opacity="0.034"/><stop offset="0.3428" stop-opacity="0.034"/><stop offset="0.3467" stop-opacity="0.034"/><stop offset="0.3506" stop-opacity="0.034"/><stop offset="0.3545" stop-opacity="0.034"/><stop offset="0.3584" stop-opacity="0.034"/><stop offset="0.3623" stop-opacity="0.035"/><stop offset="0.3662" stop-opacity="0.038"/><stop offset="0.3701" stop-opacity="0.050"/><stop offset="0.3740" stop-opacity="0.074"/><stop offset="0.3779" stop-opacity="0.105"/><stop offset="0.3818" stop-opacity="0.120"/><stop offset="0.3857" stop-opacity="0.105"/><stop offset="0.3896" stop-opacity="0.074"/><stop offset="0.3935" stop-opacity="0.050"/><stop offset="0.3974" stop-opacity="0.038"/><stop offset="0.4012" stop-opacity="0.035"/><stop offset="0.4051" stop-opacity="0.034"/><stop offset="0.4090" stop-opacity="0.034"/><stop offset="0.4129" stop-opacity="0.034"/><stop offset="0.4168" stop-opacity="0.034"/><stop offset="0.4207" stop-opacity="0.034"/><stop offset="0.4246" stop-opacity="0.034"/><stop offset="0.4285" stop-opacity="0.034"/><stop offset="0.4324" stop-opacity="0.034"/><stop offset="0.4363" stop-opacity="0.034"/><stop offset="0.4402" stop-opacity="0.034"/><stop offset="0.4441" stop-opacity="0.034"/><stop offset="0.4480" stop-opacity="0.034"/><stop offset="0.4519" stop-opacity="0.034"/><stop offset="0.4558" stop-opacity="0.034"/><stop offset="0.4597" stop-opacity="0.034"/><stop offset="0.4636" stop-opacity="0.034"/><stop offset="0.4675" stop-opacity="0.034"/><stop offset="0.4714" stop-opacity="0.034"/><stop offset="0.4753" stop-opacity="0.034"/><stop offset="0.4792" stop-opacity="0.034"/><stop offset="0.4831" stop-opacity="0.034"/><stop offset="0.4869" stop-opacity="0.034"/><stop offset="0.4908" stop-opacity="0.034"/><stop offset="0.4947" stop-opacity="0.034"/><stop offset="0.4986" stop-opacity="0.034"/><stop offset="0.5025" stop-opacity="0.034"/><stop offset="0.5064" stop-opacity="0.034"/><stop offset="0.5103" stop-opacity="0.034"/><stop offset="0.5142" stop-opacity="0.034"/><stop offset="0.5181" stop-opacity="0.034"/><stop offset="0.5220" stop-opacity="0.034"/><stop offset="0.5259" stop-opacity="0.034"/><stop offset="0.5298" stop-opacity="0.034"/><stop offset="0.5337" stop-opacity="0.034"/><stop offset="0.5376" stop-opacity="0.034"/><stop offset="0.5415" stop-opacity="0.034"/><stop offset="0.5454" stop-opacity="0.034"/><stop offset="0.5493" stop-opacity="0.034"/><stop offset="0.5532" stop-opacity="0.034"/><stop offset="0.5571" stop-opacity="0.034"/><stop offset="0.5610" stop-opacity="0.034"/><stop offset="0.5649" stop-opacity="0.034"/><stop offset="0.5688" stop-opacity="0.034"/><stop offset="0.5727" stop-opacity="0.034"/><stop offset="0.5765" stop-opacity="0.034"/><stop offset="0.5804" stop-opacity="0.034"/><stop offset="0.5843" stop-opacity="0.034"/><stop offset="0.5882" stop-opacity="0.034"/><stop offset="0.5921" stop-opacity="0.034"/><stop offset="0.5960" stop-opacity="0.034"/><stop offset="0.5999" stop-opacity="0.034"/><stop offset="0.6038" stop-opacity="0.034"/><stop offset="0.6077" stop-opacity="0.034"/><stop offset="0.6116" stop-opacity="0.034"/><stop offset="0.6155" stop-opacity="0.034"/><stop offset="0.6194" stop-opacity="0.034"/><stop offset="0.6233" stop-opacity="0.034"/><stop offset="0.6272" stop-opacity="0.034"/><stop offset="0.6311" stop-opacity="0.034"/><stop offset="0.6350" stop-opacity="0.034"/><stop offset="0.6389" stop-opacity="0.034"/><stop offset="0.6428" stop-opacity="0.034"/><stop offset="0.6467" stop-opacity="0.034"/><stop offset="0.6506" stop-opacity="0.034"/><stop offset="0.6545" stop-opacity="0.034"/><stop offset="0.6584" stop-opacity="0.034"/><stop offset="0.6623" stop-opacity="0.034"/><stop offset="0.6661" stop-opacity="0.034"/><stop offset="0.6700" stop-opacity="0.034"/><stop offset="0.6739" stop-opacity="0.034"/><stop offset="0.6778" stop-opacity="0.034"/><stop offset="0.6817" stop-opacity="0.034"/><stop offset="0.6856" stop-opacity="0.034"/><stop offset="0.6895" stop-opacity="0.034"/><stop offset="0.6934" stop-opacity="0.034"/><stop offset="0.6973" stop-opacity="0.034"/><stop offset="0.7012" stop-opacity="0.034"/><stop offset="0.7051" stop-opacity="0.034"/><stop offset="0.7090" stop-opacity="0.034"/><stop offset="0.7129" stop-opacity="0.034"/><stop offset="0.7168" stop-opacity="0.034"/><stop offset="0.7207" stop-opacity="0.034"/><stop offset="0.7246" stop-opacity="0.034"/><stop offset="0.7285" stop-opacity="0.034"/><stop offset="0.7324" stop-opacity="0.034"/><stop offset="0.7363" stop-opacity="0.034"/><stop offset="0.7402" stop-opacity="0.034"/><stop offset="0.7441" stop-opacity="0.034"/><stop offset="0.7480" stop-opacity="0.034"/><stop offset="0.7519" stop-opacity="0.034"/><stop offset="0.7557" stop-opacity="0.034"/><stop offset="0.7596" stop-opacity="0.034"/><stop offset="0.7635" stop-opacity="0.034"/><stop offset="0.7674" stop-opacity="0.034"/><stop offset="0.7713" stop-opacity="0.034"/><stop offset="0.7752" stop-opacity="0.034"/><stop offset="0.7791" stop-opacity="0.034"/><stop offset="0.7830" stop-opacity="0.034"/><stop offset="0.7869" stop-opacity="0.034"/><stop offset="0.7908" stop-opacity="0.034"/><stop offset="0.7947" stop-opacity="0.034"/><stop offset="0.7986" stop-opacity="0.034"/><stop offset="0.8025" stop-opacity="0.034"/><stop offset="0.8064" stop-opacity="0.034"/><stop offset="0.8103" stop-opacity="0.034"/><stop offset="0.8142" stop-opacity="0.034"/><stop offset="0.8181" stop-opacity="0.034"/><stop offset="0.8220" stop-opacity="0.034"/><stop offset="0.8259" stop-opacity="0.034"/><stop offset="0.8298" stop-opacity="0.034"/><stop offset="0.8337" stop-opacity="0.034"/><stop offset="0.8376" stop-opacity="0.034"/><stop offset="0.8414" stop-opacity="0.034"/><stop offset="0.8453" stop-opacity="0.034"/><stop offset="0.8492" stop-opacity="0.034"/><stop offset="0.8531" stop-opacity="0.034"/><stop offset="0.8570" stop-opacity="0.034"/><stop offset="0.8609" stop-opacity="0.034"/><stop offset="0.8648" stop-opacity="0.034"/><stop offset="0.8687" stop-opacity="0.034"/><stop offset="0.8726" stop-opacity="0.034"/><stop offset="0.8765" stop-opacity="0.034"/><stop offset="0.8804" stop-opacity="0.034"/><stop offset="0.8843" stop-opacity="0.034"/><stop offset="0.8882" stop-opacity="0.034"/><stop offset="0.8921" stop-opacity="0.034"/><stop offset="0.8960" stop-opacity="0.034"/><stop offset="0.8999" stop-opacity="0.034"/><stop offset="0.9038" stop-opacity="0.034"/><stop offset="0.9077" stop-opacity="0.034"/><stop offset="0.9116" stop-opacity="0.034"/><stop offset="0.9155" stop-opacity="0.034"/><stop offset="0.9194" stop-opacity="0.034"/><stop offset="0.9233" stop-opacity="0.034"/><stop offset="0.9272" stop-opacity="0.034"/><stop offset="0.9310" stop-opacity="0.034"/><stop offset="0.9349" stop-opacity="0.034"/><stop offset="0.9388" stop-opacity="0.034"/><stop offset="0.9427" stop-opacity="0.034"/><stop offset="0.9466" stop-opacity="0.034"/><stop offset="0.9505" stop-opacity="0.034"/><stop offset="0.9544" stop-opacity="0.034"/><stop offset="0.9583" stop-opacity="0.034"/><stop offset="0.9622" stop-opacity="0.034"/><stop offset="0.9661" stop-opacity="0.034"/><stop offset="0.9700" stop-opacity="0.034"/><stop offset="0.9739" stop-opacity="0.034"/><stop offset="0.9778" stop-opacity="0.034"/><stop offset="0.9817" stop-opacity="0.034"/><stop offset="0.9856" stop-opacity="0.034"/><stop offset="0.9895" stop-opacity="0.034"/><stop offset="0.9934" stop-opacity="0.034"/><stop offset="0.9973" stop-opacity="0.034"/><stop offset="1.0012" stop-opacity="0.000"/></linearGradient><linearGradient id="lg7" x1="0" y1="570" x2="0" y2="826.7" gradientUnits="userSpaceOnUse"><stop offset="0.0039" stop-opacity="0.000"/><stop offset="0.0078" stop-opacity="0.000"/><stop offset="0.0117" stop-opacity="0.000"/><stop offset="0.0156" stop-opacity="0.000"/><stop offset="0.0195" stop-opacity="0.051"/><stop offset="0.0234" stop-opacity="0.051"/><stop offset="0.0273" stop-opacity="0.051"/><stop offset="0.0312" stop-opacity="0.051"/><stop offset="0.0351" stop-opacity="0.051"/><stop offset="0.0390" stop-opacity="0.051"/><stop offset="0.0429" stop-opacity="0.051"/><stop offset="0.0467" stop-opacity="0.051"/><stop offset="0.0506" stop-opacity="0.051"/><stop offset="0.0545" stop-opacity="0.051"/><stop offset="0.0584" stop-opacity="0.051"/><stop offset="0.0623" stop-opacity="0.051"/><stop offset="0.0662" stop-opacity="0.051"/><stop offset="0.0701" stop-opacity="0.051"/><stop offset="0.0740" stop-opacity="0.051"/><stop offset="0.0779" stop-opacity="0.051"/><stop offset="0.0818" stop-opacity="0.051"/><stop offset="0.0857" stop-opacity="0.051"/><stop offset="0.0896" stop-opacity="0.051"/><stop offset="0.0935" stop-opacity="0.051"/><stop offset="0.0974" stop-opacity="0.051"/><stop offset="0.1013" stop-opacity="0.051"/><stop offset="0.1052" stop-opacity="0.051"/><stop offset="0.1091" stop-opacity="0.051"/><stop offset="0.1130" stop-opacity="0.051"/><stop offset="0.1169" stop-opacity="0.051"/><stop offset="0.1208" stop-opacity="0.051"/><stop offset="0.1247" stop-opacity="0.052"/><stop offset="0.1286" stop-opacity="0.055"/><stop offset="0.1325" stop-opacity="0.064"/><stop offset="0.1363" stop-opacity="0.079"/><stop offset="0.1402" stop-opacity="0.092"/><stop offset="0.1441" stop-opacity="0.092"/><stop offset="0.1480" stop-opacity="0.079"/><stop offset="0.1519" stop-opacity="0.064"/><stop offset="0.1558" stop-opacity="0.055"/><stop offset="0.1597" stop-opacity="0.052"/><stop offset="0.1636" stop-opacity="0.051"/><stop offset="0.1675" stop-opacity="0.051"/><stop offset="0.1714" stop-opacity="0.052"/><stop offset="0.1753" stop-opacity="0.054"/><stop offset="0.1792" stop-opacity="0.064"/><stop offset="0.1831" stop-opacity="0.085"/><stop offset="0.1870" stop-opacity="0.116"/><stop offset="0.1909" stop-opacity="0.136"/><stop offset="0.1948" stop-opacity="0.127"/><stop offset="0.1987" stop-opacity="0.098"/><stop offset="0.2026" stop-opacity="0.071"/><stop offset="0.2065" stop-opacity="0.057"/><stop offset="0.2104" stop-opacity="0.052"/><stop offset="0.2143" stop-opacity="0.051"/><stop offset="0.2182" stop-opacity="0.051"/><stop offset="0.2220" stop-opacity="0.051"/><stop offset="0.2259" stop-opacity="0.051"/><stop offset="0.2298" stop-opacity="0.051"/><stop offset="0.2337" stop-opacity="0.051"/><stop offset="0.2376" stop-opacity="0.051"/><stop offset="0.2415" stop-opacity="0.051"/><stop offset="0.2454" stop-opacity="0.051"/><stop offset="0.2493" stop-opacity="0.051"/><stop offset="0.2532" stop-opacity="0.051"/><stop offset="0.2571" stop-opacity="0.051"/><stop offset="0.2610" stop-opacity="0.051"/><stop offset="0.2649" stop-opacity="0.051"/><stop offset="0.2688" stop-opacity="0.051"/><stop offset="0.2727" stop-opacity="0.051"/><stop offset="0.2766" stop-opacity="0.051"/><stop offset="0.2805" stop-opacity="0.051"/><stop offset="0.2844" stop-opacity="0.051"/><stop offset="0.2883" stop-opacity="0.051"/><stop offset="0.2922" stop-opacity="0.051"/><stop offset="0.2961" stop-opacity="0.051"/><stop offset="0.3000" stop-opacity="0.051"/><stop offset="0.3039" stop-opacity="0.051"/><stop offset="0.3078" stop-opacity="0.051"/><stop offset="0.3116" stop-opacity="0.034"/><stop offset="0.3155" stop-opacity="0.034"/><stop offset="0.3194" stop-opacity="0.034"/><stop offset="0.3233" stop-opacity="0.034"/><stop offset="0.3272" stop-opacity="0.034"/><stop offset="0.3311" stop-opacity="0.034"/><stop offset="0.3350" stop-opacity="0.034"/><stop offset="0.3389" stop-opacity="0.034"/><stop offset="0.3428" stop-opacity="0.034"/><stop offset="0.3467" stop-opacity="0.034"/><stop offset="0.3506" stop-opacity="0.034"/><stop offset="0.3545" stop-opacity="0.034"/><stop offset="0.3584" stop-opacity="0.034"/><stop offset="0.3623" stop-opacity="0.034"/><stop offset="0.3662" stop-opacity="0.034"/><stop offset="0.3701" stop-opacity="0.034"/><stop offset="0.3740" stop-opacity="0.034"/><stop offset="0.3779" stop-opacity="0.034"/><stop offset="0.3818" stop-opacity="0.034"/><stop offset="0.3857" stop-opacity="0.034"/><stop offset="0.3896" stop-opacity="0.034"/><stop offset="0.3935" stop-opacity="0.034"/><stop offset="0.3974" stop-opacity="0.034"/><stop offset="0.4012" stop-opacity="0.034"/><stop offset="0.4051" stop-opacity="0.034"/><stop offset="0.4090" stop-opacity="0.034"/><stop offset="0.4129" stop-opacity="0.034"/><stop offset="0.4168" stop-opacity="0.034"/><stop offset="0.4207" stop-opacity="0.034"/><stop offset="0.4246" stop-opacity="0.034"/><stop offset="0.4285" stop-opacity="0.034"/><stop offset="0.4324" stop-opacity="0.034"/><stop offset="0.4363" stop-opacity="0.034"/><stop offset="0.4402" stop-opacity="0.034"/><stop offset="0.4441" stop-opacity="0.034"/><stop offset="0.4480" stop-opacity="0.034"/><stop offset="0.4519" stop-opacity="0.034"/><stop offset="0.4558" stop-opacity="0.034"/><stop offset="0.4597" stop-opacity="0.034"/><stop offset="0.4636" stop-opacity="0.034"/><stop offset="0.4675" stop-opacity="0.034"/><stop offset="0.4714" stop-opacity="0.034"/><stop offset="0.4753" stop-opacity="0.034"/><stop offset="0.4792" stop-opacity="0.034"/><stop offset="0.4831" stop-opacity="0.034"/><stop offset="0.4869" stop-opacity="0.034"/><stop offset="0.4908" stop-opacity="0.034"/><stop offset="0.4947" stop-opacity="0.034"/><stop offset="0.4986" stop-opacity="0.034"/><stop offset="0.5025" stop-opacity="0.034"/><stop offset="0.5064" stop-opacity="0.034"/><stop offset="0.5103" stop-opacity="0.034"/><stop offset="0.5142" stop-opacity="0.034"/><stop offset="0.5181" stop-opacity="0.034"/><stop offset="0.5220" stop-opacity="0.034"/><stop offset="0.5259" stop-opacity="0.034"/><stop offset="0.5298" stop-opacity="0.034"/><stop offset="0.5337" stop-opacity="0.034"/><stop offset="0.5376" stop-opacity="0.034"/><stop offset="0.5415" stop-opacity="0.034"/><stop offset="0.5454" stop-opacity="0.034"/><stop offset="0.5493" stop-opacity="0.034"/><stop offset="0.5532" stop-opacity="0.034"/><stop offset="0.5571" stop-opacity="0.034"/><stop offset="0.5610" stop-opacity="0.034"/><stop offset="0.5649" stop-opacity="0.034"/><stop offset="0.5688" stop-opacity="0.034"/><stop offset="0.5727" stop-opacity="0.034"/><stop offset="0.5765" stop-opacity="0.034"/><stop offset="0.5804" stop-opacity="0.034"/><stop offset="0.5843" stop-opacity="0.034"/><stop offset="0.5882" stop-opacity="0.034"/><stop offset="0.5921" stop-opacity="0.034"/><stop offset="0.5960" stop-opacity="0.034"/><stop offset="0.5999" stop-opacity="0.034"/><stop offset="0.6038" stop-opacity="0.034"/><stop offset="0.6077" stop-opacity="0.034"/><stop offset="0.6116" stop-opacity="0.034"/><stop offset="0.6155" stop-opacity="0.034"/><stop offset="0.6194" stop-opacity="0.034"/><stop offset="0.6233" stop-opacity="0.034"/><stop offset="0.6272" stop-opacity="0.034"/><stop offset="0.6311" stop-opacity="0.034"/><stop offset="0.6350" stop-opacity="0.034"/><stop offset="0.6389" stop-opacity="0.034"/><stop offset="0.6428" stop-opacity="0.034"/><stop offset="0.6467" stop-opacity="0.034"/><stop offset="0.6506" stop-opacity="0.034"/><stop offset="0.6545" stop-opacity="0.034"/><stop offset="0.6584" stop-opacity="0.034"/><stop offset="0.6623" stop-opacity="0.034"/><stop offset="0.6661" stop-opacity="0.034"/><stop offset="0.6700" stop-opacity="0.034"/><stop offset="0.6739" stop-opacity="0.034"/><stop offset="0.6778" stop-opacity="0.034"/><stop offset="0.6817" stop-opacity="0.034"/><stop offset="0.6856" stop-opacity="0.034"/><stop offset="0.6895" stop-opacity="0.034"/><stop offset="0.6934" stop-opacity="0.034"/><stop offset="0.6973" stop-opacity="0.034"/><stop offset="0.7012" stop-opacity="0.034"/><stop offset="0.7051" stop-opacity="0.034"/><stop offset="0.7090" stop-opacity="0.034"/><stop offset="0.7129" stop-opacity="0.034"/><stop offset="0.7168" stop-opacity="0.034"/><stop offset="0.7207" stop-opacity="0.034"/><stop offset="0.7246" stop-opacity="0.034"/><stop offset="0.7285" stop-opacity="0.034"/><stop offset="0.7324" stop-opacity="0.034"/><stop offset="0.7363" stop-opacity="0.034"/><stop offset="0.7402" stop-opacity="0.034"/><stop offset="0.7441" stop-opacity="0.034"/><stop offset="0.7480" stop-opacity="0.034"/><stop offset="0.7519" stop-opacity="0.034"/><stop offset="0.7557" stop-opacity="0.034"/><stop offset="0.7596" stop-opacity="0.034"/><stop offset="0.7635" stop-opacity="0.034"/><stop offset="0.7674" stop-opacity="0.034"/><stop offset="0.7713" stop-opacity="0.034"/><stop offset="0.7752" stop-opacity="0.034"/><stop offset="0.7791" stop-opacity="0.034"/><stop offset="0.7830" stop-opacity="0.034"/><stop offset="0.7869" stop-opacity="0.034"/><stop offset="0.7908" stop-opacity="0.034"/><stop offset="0.7947" stop-opacity="0.034"/><stop offset="0.7986" stop-opacity="0.034"/><stop offset="0.8025" stop-opacity="0.034"/><stop offset="0.8064" stop-opacity="0.034"/><stop offset="0.8103" stop-opacity="0.034"/><stop offset="0.8142" stop-opacity="0.034"/><stop offset="0.8181" stop-opacity="0.034"/><stop offset="0.8220" stop-opacity="0.034"/><stop offset="0.8259" stop-opacity="0.034"/><stop offset="0.8298" stop-opacity="0.034"/><stop offset="0.8337" stop-opacity="0.034"/><stop offset="0.8376" stop-opacity="0.034"/><stop offset="0.8414" stop-opacity="0.034"/><stop offset="0.8453" stop-opacity="0.034"/><stop offset="0.8492" stop-opacity="0.034"/><stop offset="0.8531" stop-opacity="0.034"/><stop offset="0.8570" stop-opacity="0.034"/><stop offset="0.8609" stop-opacity="0.034"/><stop offset="0.8648" stop-opacity="0.034"/><stop offset="0.8687" stop-opacity="0.034"/><stop offset="0.8726" stop-opacity="0.034"/><stop offset="0.8765" stop-opacity="0.034"/><stop offset="0.8804" stop-opacity="0.034"/><stop offset="0.8843" stop-opacity="0.034"/><stop offset="0.8882" stop-opacity="0.034"/><stop offset="0.8921" stop-opacity="0.034"/><stop offset="0.8960" stop-opacity="0.034"/><stop offset="0.8999" stop-opacity="0.034"/><stop offset="0.9038" stop-opacity="0.034"/><stop offset="0.9077" stop-opacity="0.034"/><stop offset="0.9116" stop-opacity="0.034"/><stop offset="0.9155" stop-opacity="0.034"/><stop offset="0.9194" stop-opacity="0.034"/><stop offset="0.9233" stop-opacity="0.034"/><stop offset="0.9272" stop-opacity="0.034"/><stop offset="0.9310" stop-opacity="0.034"/><stop offset="0.9349" stop-opacity="0.034"/><stop offset="0.9388" stop-opacity="0.034"/><stop offset="0.9427" stop-opacity="0.034"/><stop offset="0.9466" stop-opacity="0.034"/><stop offset="0.9505" stop-opacity="0.034"/><stop offset="0.9544" stop-opacity="0.034"/><stop offset="0.9583" stop-opacity="0.034"/><stop offset="0.9622" stop-opacity="0.034"/><stop offset="0.9661" stop-opacity="0.034"/><stop offset="0.9700" stop-opacity="0.034"/><stop offset="0.9739" stop-opacity="0.034"/><stop offset="0.9778" stop-opacity="0.034"/><stop offset="0.9817" stop-opacity="0.034"/><stop offset="0.9856" stop-opacity="0.034"/><stop offset="0.9895" stop-opacity="0.034"/><stop offset="0.9934" stop-opacity="0.034"/><stop offset="0.9973" stop-opacity="0.034"/><stop offset="1.0012" stop-opacity="0.000"/></linearGradient><linearGradient id="lg8" x1="0" y1="570" x2="0" y2="826.7" gradientUnits="userSpaceOnUse"><stop offset="0.0039" stop-opacity="0.132"/><stop offset="0.0078" stop-opacity="0.148"/><stop offset="0.0117" stop-opacity="0.187"/><stop offset="0.0156" stop-opacity="0.248"/><stop offset="0.0195" stop-opacity="0.300"/><stop offset="0.0234" stop-opacity="0.306"/><stop offset="0.0273" stop-opacity="0.260"/><stop offset="0.0312" stop-opacity="0.198"/><stop offset="0.0351" stop-opacity="0.154"/><stop offset="0.0390" stop-opacity="0.134"/><stop offset="0.0429" stop-opacity="0.128"/><stop offset="0.0467" stop-opacity="0.126"/><stop offset="0.0506" stop-opacity="0.126"/><stop offset="0.0545" stop-opacity="0.127"/><stop offset="0.0584" stop-opacity="0.133"/><stop offset="0.0623" stop-opacity="0.147"/><stop offset="0.0662" stop-opacity="0.166"/><stop offset="0.0701" stop-opacity="0.177"/><stop offset="0.0740" stop-opacity="0.167"/><stop offset="0.0779" stop-opacity="0.150"/><stop offset="0.0818" stop-opacity="0.146"/><stop offset="0.0857" stop-opacity="0.163"/><stop offset="0.0896" stop-opacity="0.207"/><stop offset="0.0935" stop-opacity="0.274"/><stop offset="0.0974" stop-opacity="0.341"/><stop offset="0.1013" stop-opacity="0.377"/><stop offset="0.1052" stop-opacity="0.361"/><stop offset="0.1091" stop-opacity="0.302"/><stop offset="0.1130" stop-opacity="0.232"/><stop offset="0.1169" stop-opacity="0.177"/><stop offset="0.1208" stop-opacity="0.146"/><stop offset="0.1247" stop-opacity="0.133"/><stop offset="0.1286" stop-opacity="0.130"/><stop offset="0.1325" stop-opacity="0.136"/><stop offset="0.1363" stop-opacity="0.157"/><stop offset="0.1402" stop-opacity="0.196"/><stop offset="0.1441" stop-opacity="0.240"/><stop offset="0.1480" stop-opacity="0.261"/><stop offset="0.1519" stop-opacity="0.240"/><stop offset="0.1558" stop-opacity="0.196"/><stop offset="0.1597" stop-opacity="0.157"/><stop offset="0.1636" stop-opacity="0.136"/><stop offset="0.1675" stop-opacity="0.129"/><stop offset="0.1714" stop-opacity="0.129"/><stop offset="0.1753" stop-opacity="0.136"/><stop offset="0.1792" stop-opacity="0.155"/><stop offset="0.1831" stop-opacity="0.195"/><stop offset="0.1870" stop-opacity="0.264"/><stop offset="0.1909" stop-opacity="0.352"/><stop offset="0.1948" stop-opacity="0.431"/><stop offset="0.1987" stop-opacity="0.462"/><stop offset="0.2026" stop-opacity="0.431"/><stop offset="0.2065" stop-opacity="0.352"/><stop offset="0.2104" stop-opacity="0.264"/><stop offset="0.2143" stop-opacity="0.195"/><stop offset="0.2182" stop-opacity="0.155"/><stop offset="0.2220" stop-opacity="0.136"/><stop offset="0.2259" stop-opacity="0.129"/><stop offset="0.2298" stop-opacity="0.129"/><stop offset="0.2337" stop-opacity="0.135"/><stop offset="0.2376" stop-opacity="0.154"/><stop offset="0.2415" stop-opacity="0.180"/><stop offset="0.2454" stop-opacity="0.193"/><stop offset="0.2493" stop-opacity="0.180"/><stop offset="0.2532" stop-opacity="0.154"/><stop offset="0.2571" stop-opacity="0.135"/><stop offset="0.2610" stop-opacity="0.129"/><stop offset="0.2649" stop-opacity="0.131"/><stop offset="0.2688" stop-opacity="0.144"/><stop offset="0.2727" stop-opacity="0.173"/><stop offset="0.2766" stop-opacity="0.209"/><stop offset="0.2805" stop-opacity="0.227"/><stop offset="0.2844" stop-opacity="0.209"/><stop offset="0.2883" stop-opacity="0.173"/><stop offset="0.2922" stop-opacity="0.144"/><stop offset="0.2961" stop-opacity="0.131"/><stop offset="0.3000" stop-opacity="0.127"/><stop offset="0.3039" stop-opacity="0.126"/><stop offset="0.3078" stop-opacity="0.126"/><stop offset="0.3116" stop-opacity="0.126"/><stop offset="0.3155" stop-opacity="0.126"/><stop offset="0.3194" stop-opacity="0.126"/><stop offset="0.3233" stop-opacity="0.126"/><stop offset="0.3272" stop-opacity="0.126"/><stop offset="0.3311" stop-opacity="0.092"/><stop offset="0.3350" stop-opacity="0.092"/><stop offset="0.3389" stop-opacity="0.092"/><stop offset="0.3428" stop-opacity="0.092"/><stop offset="0.3467" stop-opacity="0.092"/><stop offset="0.3506" stop-opacity="0.092"/><stop offset="0.3545" stop-opacity="0.092"/><stop offset="0.3584" stop-opacity="0.092"/><stop offset="0.3623" stop-opacity="0.092"/><stop offset="0.3662" stop-opacity="0.092"/><stop offset="0.3701" stop-opacity="0.092"/><stop offset="0.3740" stop-opacity="0.092"/><stop offset="0.3779" stop-opacity="0.092"/><stop offset="0.3818" stop-opacity="0.092"/><stop offset="0.3857" stop-opacity="0.092"/><stop offset="0.3896" stop-opacity="0.092"/><stop offset="0.3935" stop-opacity="0.092"/><stop offset="0.3974" stop-opacity="0.092"/><stop offset="0.4012" stop-opacity="0.092"/><stop offset="0.4051" stop-opacity="0.092"/><stop offset="0.4090" stop-opacity="0.092"/><stop offset="0.4129" stop-opacity="0.092"/><stop offset="0.4168" stop-opacity="0.092"/><stop offset="0.4207" stop-opacity="0.092"/><stop offset="0.4246" stop-opacity="0.092"/><stop offset="0.4285" stop-opacity="0.092"/><stop offset="0.4324" stop-opacity="0.092"/><stop offset="0.4363" stop-opacity="0.092"/><stop offset="0.4402" stop-opacity="0.092"/><stop offset="0.4441" stop-opacity="0.092"/><stop offset="0.4480" stop-opacity="0.092"/><stop offset="0.4519" stop-opacity="0.092"/><stop offset="0.4558" stop-opacity="0.092"/><stop offset="0.4597" stop-opacity="0.092"/><stop offset="0.4636" stop-opacity="0.092"/><stop offset="0.4675" stop-opacity="0.017"/><stop offset="0.4714" stop-opacity="0.017"/><stop offset="0.4753" stop-opacity="0.017"/><stop offset="0.4792" stop-opacity="0.017"/><stop offset="0.4831" stop-opacity="0.017"/><stop offset="0.4869" stop-opacity="0.017"/><stop offset="0.4908" stop-opacity="0.019"/><stop offset="0.4947" stop-opacity="0.025"/><stop offset="0.4986" stop-opacity="0.044"/><stop offset="0.5025" stop-opacity="0.078"/><stop offset="0.5064" stop-opacity="0.117"/><stop offset="0.5103" stop-opacity="0.134"/><stop offset="0.5142" stop-opacity="0.117"/><stop offset="0.5181" stop-opacity="0.078"/><stop offset="0.5220" stop-opacity="0.044"/><stop offset="0.5259" stop-opacity="0.025"/><stop offset="0.5298" stop-opacity="0.019"/><stop offset="0.5337" stop-opacity="0.017"/><stop offset="0.5376" stop-opacity="0.017"/><stop offset="0.5415" stop-opacity="0.018"/><stop offset="0.5454" stop-opacity="0.022"/><stop offset="0.5493" stop-opacity="0.035"/><stop offset="0.5532" stop-opacity="0.065"/><stop offset="0.5571" stop-opacity="0.110"/><stop offset="0.5610" stop-opacity="0.146"/><stop offset="0.5649" stop-opacity="0.146"/><stop offset="0.5688" stop-opacity="0.110"/><stop offset="0.5727" stop-opacity="0.065"/><stop offset="0.5765" stop-opacity="0.035"/><stop offset="0.5804" stop-opacity="0.022"/><stop offset="0.5843" stop-opacity="0.018"/><stop offset="0.5882" stop-opacity="0.018"/><stop offset="0.5921" stop-opacity="0.021"/><stop offset="0.5960" stop-opacity="0.033"/><stop offset="0.5999" stop-opacity="0.059"/><stop offset="0.6038" stop-opacity="0.098"/><stop offset="0.6077" stop-opacity="0.130"/><stop offset="0.6116" stop-opacity="0.130"/><stop offset="0.6155" stop-opacity="0.098"/><stop offset="0.6194" stop-opacity="0.059"/><stop offset="0.6233" stop-opacity="0.033"/><stop offset="0.6272" stop-opacity="0.021"/><stop offset="0.6311" stop-opacity="0.018"/><stop offset="0.6350" stop-opacity="0.017"/><stop offset="0.6389" stop-opacity="0.017"/><stop offset="0.6428" stop-opacity="0.017"/><stop offset="0.6467" stop-opacity="0.017"/><stop offset="0.6506" stop-opacity="0.017"/><stop offset="0.6545" stop-opacity="0.017"/><stop offset="0.6584" stop-opacity="0.017"/><stop offset="0.6623" stop-opacity="0.017"/><stop offset="0.6661" stop-opacity="0.017"/><stop offset="0.6700" stop-opacity="0.018"/><stop offset="0.6739" stop-opacity="0.023"/><stop offset="0.6778" stop-opacity="0.037"/><stop offset="0.6817" stop-opacity="0.061"/><stop offset="0.6856" stop-opacity="0.081"/><stop offset="0.6895" stop-opacity="0.081"/><stop offset="0.6934" stop-opacity="0.061"/><stop offset="0.6973" stop-opacity="0.037"/><stop offset="0.7012" stop-opacity="0.023"/><stop offset="0.7051" stop-opacity="0.018"/><stop offset="0.7090" stop-opacity="0.017"/><stop offset="0.7129" stop-opacity="0.017"/><stop offset="0.7168" stop-opacity="0.017"/><stop offset="0.7207" stop-opacity="0.017"/><stop offset="0.7246" stop-opacity="0.017"/><stop offset="0.7285" stop-opacity="0.017"/><stop offset="0.7324" stop-opacity="0.017"/><stop offset="0.7363" stop-opacity="0.017"/><stop offset="0.7402" stop-opacity="0.017"/><stop offset="0.7441" stop-opacity="0.017"/><stop offset="0.7480" stop-opacity="0.017"/><stop offset="0.7519" stop-opacity="0.017"/><stop offset="0.7557" stop-opacity="0.017"/><stop offset="0.7596" stop-opacity="0.017"/><stop offset="0.7635" stop-opacity="0.017"/><stop offset="0.7674" stop-opacity="0.017"/><stop offset="0.7713" stop-opacity="0.017"/><stop offset="0.7752" stop-opacity="0.017"/><stop offset="0.7791" stop-opacity="0.017"/><stop offset="0.7830" stop-opacity="0.017"/><stop offset="0.7869" stop-opacity="0.017"/><stop offset="0.7908" stop-opacity="0.017"/><stop offset="0.7947" stop-opacity="0.017"/><stop offset="0.7986" stop-opacity="0.017"/><stop offset="0.8025" stop-opacity="0.017"/><stop offset="0.8064" stop-opacity="0.017"/><stop offset="0.8103" stop-opacity="0.017"/><stop offset="0.8142" stop-opacity="0.017"/><stop offset="0.8181" stop-opacity="0.017"/><stop offset="0.8220" stop-opacity="0.017"/><stop offset="0.8259" stop-opacity="0.017"/><stop offset="0.8298" stop-opacity="0.017"/><stop offset="0.8337" stop-opacity="0.017"/><stop offset="0.8376" stop-opacity="0.017"/><stop offset="0.8414" stop-opacity="0.017"/><stop offset="0.8453" stop-opacity="0.017"/><stop offset="0.8492" stop-opacity="0.017"/><stop offset="0.8531" stop-opacity="0.017"/><stop offset="0.8570" stop-opacity="0.017"/><stop offset="0.8609" stop-opacity="0.017"/><stop offset="0.8648" stop-opacity="0.017"/><stop offset="0.8687" stop-opacity="0.020"/><stop offset="0.8726" stop-opacity="0.028"/><stop offset="0.8765" stop-opacity="0.047"/><stop offset="0.8804" stop-opacity="0.075"/><stop offset="0.8843" stop-opacity="0.097"/><stop offset="0.8882" stop-opacity="0.098"/><stop offset="0.8921" stop-opacity="0.075"/><stop offset="0.8960" stop-opacity="0.049"/><stop offset="0.8999" stop-opacity="0.034"/><stop offset="0.9038" stop-opacity="0.039"/><stop offset="0.9077" stop-opacity="0.061"/><stop offset="0.9116" stop-opacity="0.088"/><stop offset="0.9155" stop-opacity="0.101"/><stop offset="0.9194" stop-opacity="0.088"/><stop offset="0.9233" stop-opacity="0.061"/><stop offset="0.9272" stop-opacity="0.036"/><stop offset="0.9310" stop-opacity="0.023"/><stop offset="0.9349" stop-opacity="0.018"/><stop offset="0.9388" stop-opacity="0.017"/><stop offset="0.9427" stop-opacity="0.017"/><stop offset="0.9466" stop-opacity="0.017"/><stop offset="0.9505" stop-opacity="0.017"/><stop offset="0.9544" stop-opacity="0.017"/><stop offset="0.9583" stop-opacity="0.017"/><stop offset="0.9622" stop-opacity="0.017"/><stop offset="0.9661" stop-opacity="0.017"/><stop offset="0.9700" stop-opacity="0.017"/><stop offset="0.9739" stop-opacity="0.017"/><stop offset="0.9778" stop-opacity="0.017"/><stop offset="0.9817" stop-opacity="0.017"/><stop offset="0.9856" stop-opacity="0.017"/><stop offset="0.9895" stop-opacity="0.017"/><stop offset="0.9934" stop-opacity="0.017"/><stop offset="0.9973" stop-opacity="0.017"/><stop offset="1.0012" stop-opacity="0.000"/></linearGradient><linearGradient id="lg9" x1="0" y1="570" x2="0" y2="826.7" gradientUnits="userSpaceOnUse"><stop offset="0.0039" stop-opacity="0.398"/><stop offset="0.0078" stop-opacity="0.429"/><stop offset="0.0117" stop-opacity="0.400"/><stop offset="0.0156" stop-opacity="0.348"/><stop offset="0.0195" stop-opacity="0.326"/><stop offset="0.0234" stop-opacity="0.357"/><stop offset="0.0273" stop-opacity="0.433"/><stop offset="0.0312" stop-opacity="0.527"/><stop offset="0.0351" stop-opacity="0.590"/><stop offset="0.0390" stop-opacity="0.583"/><stop offset="0.0429" stop-opacity="0.510"/><stop offset="0.0467" stop-opacity="0.417"/><stop offset="0.0506" stop-opacity="0.352"/><stop offset="0.0545" stop-opacity="0.335"/><stop offset="0.0584" stop-opacity="0.351"/><stop offset="0.0623" stop-opacity="0.363"/><stop offset="0.0662" stop-opacity="0.346"/><stop offset="0.0701" stop-opacity="0.317"/><stop offset="0.0740" stop-opacity="0.307"/><stop offset="0.0779" stop-opacity="0.328"/><stop offset="0.0818" stop-opacity="0.371"/><stop offset="0.0857" stop-opacity="0.407"/><stop offset="0.0896" stop-opacity="0.419"/><stop offset="0.0935" stop-opacity="0.427"/><stop offset="0.0974" stop-opacity="0.452"/><stop offset="0.1013" stop-opacity="0.497"/><stop offset="0.1052" stop-opacity="0.547"/><stop offset="0.1091" stop-opacity="0.588"/><stop offset="0.1130" stop-opacity="0.611"/><stop offset="0.1169" stop-opacity="0.611"/><stop offset="0.1208" stop-opacity="0.588"/><stop offset="0.1247" stop-opacity="0.549"/><stop offset="0.1286" stop-opacity="0.502"/><stop offset="0.1325" stop-opacity="0.459"/><stop offset="0.1363" stop-opacity="0.432"/><stop offset="0.1402" stop-opacity="0.431"/><stop offset="0.1441" stop-opacity="0.458"/><stop offset="0.1480" stop-opacity="0.507"/><stop offset="0.1519" stop-opacity="0.561"/><stop offset="0.1558" stop-opacity="0.596"/><stop offset="0.1597" stop-opacity="0.597"/><stop offset="0.1636" stop-opacity="0.561"/><stop offset="0.1675" stop-opacity="0.502"/><stop offset="0.1714" stop-opacity="0.445"/><stop offset="0.1753" stop-opacity="0.411"/><stop offset="0.1792" stop-opacity="0.406"/><stop offset="0.1831" stop-opacity="0.414"/><stop offset="0.1870" stop-opacity="0.419"/><stop offset="0.1909" stop-opacity="0.417"/><stop offset="0.1948" stop-opacity="0.425"/><stop offset="0.1987" stop-opacity="0.455"/><stop offset="0.2026" stop-opacity="0.506"/><stop offset="0.2065" stop-opacity="0.566"/><stop offset="0.2104" stop-opacity="0.618"/><stop offset="0.2143" stop-opacity="0.650"/><stop offset="0.2182" stop-opacity="0.653"/><stop offset="0.2220" stop-opacity="0.626"/><stop offset="0.2259" stop-opacity="0.576"/><stop offset="0.2298" stop-opacity="0.514"/><stop offset="0.2337" stop-opacity="0.452"/><stop offset="0.2376" stop-opacity="0.404"/><stop offset="0.2415" stop-opacity="0.381"/><stop offset="0.2454" stop-opacity="0.384"/><stop offset="0.2493" stop-opacity="0.401"/><stop offset="0.2532" stop-opacity="0.405"/><stop offset="0.2571" stop-opacity="0.384"/><stop offset="0.2610" stop-opacity="0.346"/><stop offset="0.2649" stop-opacity="0.313"/><stop offset="0.2688" stop-opacity="0.299"/><stop offset="0.2727" stop-opacity="0.307"/><stop offset="0.2766" stop-opacity="0.336"/><stop offset="0.2805" stop-opacity="0.375"/><stop offset="0.2844" stop-opacity="0.406"/><stop offset="0.2883" stop-opacity="0.410"/><stop offset="0.2922" stop-opacity="0.385"/><stop offset="0.2961" stop-opacity="0.350"/><stop offset="0.3000" stop-opacity="0.331"/><stop offset="0.3039" stop-opacity="0.340"/><stop offset="0.3078" stop-opacity="0.371"/><stop offset="0.3116" stop-opacity="0.402"/><stop offset="0.3155" stop-opacity="0.411"/><stop offset="0.3194" stop-opacity="0.390"/><stop offset="0.3233" stop-opacity="0.351"/><stop offset="0.3272" stop-opacity="0.315"/><stop offset="0.3311" stop-opacity="0.292"/><stop offset="0.3350" stop-opacity="0.282"/><stop offset="0.3389" stop-opacity="0.278"/><stop offset="0.3428" stop-opacity="0.278"/><stop offset="0.3467" stop-opacity="0.277"/><stop offset="0.3506" stop-opacity="0.277"/><stop offset="0.3545" stop-opacity="0.277"/><stop offset="0.3584" stop-opacity="0.277"/><stop offset="0.3623" stop-opacity="0.277"/><stop offset="0.3662" stop-opacity="0.277"/><stop offset="0.3701" stop-opacity="0.277"/><stop offset="0.3740" stop-opacity="0.277"/><stop offset="0.3779" stop-opacity="0.277"/><stop offset="0.3818" stop-opacity="0.277"/><stop offset="0.3857" stop-opacity="0.277"/><stop offset="0.3896" stop-opacity="0.277"/><stop offset="0.3935" stop-opacity="0.277"/><stop offset="0.3974" stop-opacity="0.277"/><stop offset="0.4012" stop-opacity="0.277"/><stop offset="0.4051" stop-opacity="0.277"/><stop offset="0.4090" stop-opacity="0.277"/><stop offset="0.4129" stop-opacity="0.277"/><stop offset="0.4168" stop-opacity="0.277"/><stop offset="0.4207" stop-opacity="0.277"/><stop offset="0.4246" stop-opacity="0.277"/><stop offset="0.4285" stop-opacity="0.277"/><stop offset="0.4324" stop-opacity="0.277"/><stop offset="0.4363" stop-opacity="0.277"/><stop offset="0.4402" stop-opacity="0.277"/><stop offset="0.4441" stop-opacity="0.277"/><stop offset="0.4480" stop-opacity="0.277"/><stop offset="0.4519" stop-opacity="0.277"/><stop offset="0.4558" stop-opacity="0.277"/><stop offset="0.4597" stop-opacity="0.277"/><stop offset="0.4636" stop-opacity="0.277"/><stop offset="0.4675" stop-opacity="0.277"/><stop offset="0.4714" stop-opacity="0.277"/><stop offset="0.4753" stop-opacity="0.277"/><stop offset="0.4792" stop-opacity="0.353"/><stop offset="0.4831" stop-opacity="0.353"/><stop offset="0.4869" stop-opacity="0.353"/><stop offset="0.4908" stop-opacity="0.353"/><stop offset="0.4947" stop-opacity="0.353"/><stop offset="0.4986" stop-opacity="0.353"/><stop offset="0.5025" stop-opacity="0.355"/><stop offset="0.5064" stop-opacity="0.360"/><stop offset="0.5103" stop-opacity="0.373"/><stop offset="0.5142" stop-opacity="0.399"/><stop offset="0.5181" stop-opacity="0.432"/><stop offset="0.5220" stop-opacity="0.460"/><stop offset="0.5259" stop-opacity="0.465"/><stop offset="0.5298" stop-opacity="0.445"/><stop offset="0.5337" stop-opacity="0.413"/><stop offset="0.5376" stop-opacity="0.388"/><stop offset="0.5415" stop-opacity="0.382"/><stop offset="0.5454" stop-opacity="0.396"/><stop offset="0.5493" stop-opacity="0.419"/><stop offset="0.5532" stop-opacity="0.431"/><stop offset="0.5571" stop-opacity="0.423"/><stop offset="0.5610" stop-opacity="0.408"/><stop offset="0.5649" stop-opacity="0.405"/><stop offset="0.5688" stop-opacity="0.425"/><stop offset="0.5727" stop-opacity="0.461"/><stop offset="0.5765" stop-opacity="0.501"/><stop offset="0.5804" stop-opacity="0.526"/><stop offset="0.5843" stop-opacity="0.526"/><stop offset="0.5882" stop-opacity="0.500"/><stop offset="0.5921" stop-opacity="0.460"/><stop offset="0.5960" stop-opacity="0.420"/><stop offset="0.5999" stop-opacity="0.390"/><stop offset="0.6038" stop-opacity="0.375"/><stop offset="0.6077" stop-opacity="0.376"/><stop offset="0.6116" stop-opacity="0.393"/><stop offset="0.6155" stop-opacity="0.425"/><stop offset="0.6194" stop-opacity="0.461"/><stop offset="0.6233" stop-opacity="0.487"/><stop offset="0.6272" stop-opacity="0.489"/><stop offset="0.6311" stop-opacity="0.467"/><stop offset="0.6350" stop-opacity="0.432"/><stop offset="0.6389" stop-opacity="0.398"/><stop offset="0.6428" stop-opacity="0.375"/><stop offset="0.6467" stop-opacity="0.367"/><stop offset="0.6506" stop-opacity="0.372"/><stop offset="0.6545" stop-opacity="0.393"/><stop offset="0.6584" stop-opacity="0.427"/><stop offset="0.6623" stop-opacity="0.467"/><stop offset="0.6661" stop-opacity="0.497"/><stop offset="0.6700" stop-opacity="0.503"/><stop offset="0.6739" stop-opacity="0.481"/><stop offset="0.6778" stop-opacity="0.443"/><stop offset="0.6817" stop-opacity="0.406"/><stop offset="0.6856" stop-opacity="0.383"/><stop offset="0.6895" stop-opacity="0.377"/><stop offset="0.6934" stop-opacity="0.388"/><stop offset="0.6973" stop-opacity="0.415"/><stop offset="0.7012" stop-opacity="0.452"/><stop offset="0.7051" stop-opacity="0.490"/><stop offset="0.7090" stop-opacity="0.514"/><stop offset="0.7129" stop-opacity="0.514"/><stop offset="0.7168" stop-opacity="0.490"/><stop offset="0.7207" stop-opacity="0.453"/><stop offset="0.7246" stop-opacity="0.417"/><stop offset="0.7285" stop-opacity="0.393"/><stop offset="0.7324" stop-opacity="0.389"/><stop offset="0.7363" stop-opacity="0.405"/><stop offset="0.7402" stop-opacity="0.431"/><stop offset="0.7441" stop-opacity="0.451"/><stop offset="0.7480" stop-opacity="0.451"/><stop offset="0.7519" stop-opacity="0.429"/><stop offset="0.7557" stop-opacity="0.399"/><stop offset="0.7596" stop-opacity="0.375"/><stop offset="0.7635" stop-opacity="0.361"/><stop offset="0.7674" stop-opacity="0.356"/><stop offset="0.7713" stop-opacity="0.355"/><stop offset="0.7752" stop-opacity="0.359"/><stop offset="0.7791" stop-opacity="0.243"/><stop offset="0.7830" stop-opacity="0.262"/><stop offset="0.7869" stop-opacity="0.284"/><stop offset="0.7908" stop-opacity="0.300"/><stop offset="0.7947" stop-opacity="0.300"/><stop offset="0.7986" stop-opacity="0.284"/><stop offset="0.8025" stop-opacity="0.262"/><stop offset="0.8064" stop-opacity="0.243"/><stop offset="0.8103" stop-opacity="0.233"/><stop offset="0.8142" stop-opacity="0.229"/><stop offset="0.8181" stop-opacity="0.228"/><stop offset="0.8220" stop-opacity="0.229"/><stop offset="0.8259" stop-opacity="0.233"/><stop offset="0.8298" stop-opacity="0.243"/><stop offset="0.8337" stop-opacity="0.257"/><stop offset="0.8376" stop-opacity="0.269"/><stop offset="0.8414" stop-opacity="0.269"/><stop offset="0.8453" stop-opacity="0.257"/><stop offset="0.8492" stop-opacity="0.243"/><stop offset="0.8531" stop-opacity="0.233"/><stop offset="0.8570" stop-opacity="0.162"/><stop offset="0.8609" stop-opacity="0.164"/><stop offset="0.8648" stop-opacity="0.173"/><stop offset="0.8687" stop-opacity="0.196"/><stop offset="0.8726" stop-opacity="0.240"/><stop offset="0.8765" stop-opacity="0.305"/><stop offset="0.8804" stop-opacity="0.375"/><stop offset="0.8843" stop-opacity="0.422"/><stop offset="0.8882" stop-opacity="0.422"/><stop offset="0.8921" stop-opacity="0.375"/><stop offset="0.8960" stop-opacity="0.306"/><stop offset="0.8999" stop-opacity="0.245"/><stop offset="0.9038" stop-opacity="0.213"/><stop offset="0.9077" stop-opacity="0.220"/><stop offset="0.9116" stop-opacity="0.264"/><stop offset="0.9155" stop-opacity="0.326"/><stop offset="0.9194" stop-opacity="0.372"/><stop offset="0.9233" stop-opacity="0.371"/><stop offset="0.9272" stop-opacity="0.325"/><stop offset="0.9310" stop-opacity="0.260"/><stop offset="0.9349" stop-opacity="0.207"/><stop offset="0.9388" stop-opacity="0.177"/><stop offset="0.9427" stop-opacity="0.165"/><stop offset="0.9466" stop-opacity="0.161"/><stop offset="0.9505" stop-opacity="0.160"/><stop offset="0.9544" stop-opacity="0.161"/><stop offset="0.9583" stop-opacity="0.165"/><stop offset="0.9622" stop-opacity="0.175"/><stop offset="0.9661" stop-opacity="0.195"/><stop offset="0.9700" stop-opacity="0.217"/><stop offset="0.9739" stop-opacity="0.227"/><stop offset="0.9778" stop-opacity="0.217"/><stop offset="0.9817" stop-opacity="0.195"/><stop offset="0.9856" stop-opacity="0.175"/><stop offset="0.9895" stop-opacity="0.165"/><stop offset="0.9934" stop-opacity="0.161"/><stop offset="0.9973" stop-opacity="0.160"/><stop offset="1.0012" stop-opacity="0.000"/></linearGradient><linearGradient id="lg10" x1="0" y1="570" x2="0" y2="826.7" gradientUnits="userSpaceOnUse"><stop offset="0.0039" stop-opacity="0.368"/><stop offset="0.0078" stop-opacity="0.395"/><stop offset="0.0117" stop-opacity="0.368"/><stop offset="0.0156" stop-opacity="0.316"/><stop offset="0.0195" stop-opacity="0.280"/><stop offset="0.0234" stop-opacity="0.269"/><stop offset="0.0273" stop-opacity="0.278"/><stop offset="0.0312" stop-opacity="0.310"/><stop offset="0.0351" stop-opacity="0.374"/><stop offset="0.0390" stop-opacity="0.462"/><stop offset="0.0429" stop-opacity="0.540"/><stop offset="0.0467" stop-opacity="0.562"/><stop offset="0.0506" stop-opacity="0.513"/><stop offset="0.0545" stop-opacity="0.426"/><stop offset="0.0584" stop-opacity="0.345"/><stop offset="0.0623" stop-opacity="0.294"/><stop offset="0.0662" stop-opacity="0.271"/><stop offset="0.0701" stop-opacity="0.264"/><stop offset="0.0740" stop-opacity="0.267"/><stop offset="0.0779" stop-opacity="0.281"/><stop offset="0.0818" stop-opacity="0.312"/><stop offset="0.0857" stop-opacity="0.354"/><stop offset="0.0896" stop-opacity="0.380"/><stop offset="0.0935" stop-opacity="0.378"/><stop offset="0.0974" stop-opacity="0.367"/><stop offset="0.1013" stop-opacity="0.372"/><stop offset="0.1052" stop-opacity="0.404"/><stop offset="0.1091" stop-opacity="0.452"/><stop offset="0.1130" stop-opacity="0.505"/><stop offset="0.1169" stop-opacity="0.552"/><stop offset="0.1208" stop-opacity="0.585"/><stop offset="0.1247" stop-opacity="0.597"/><stop offset="0.1286" stop-opacity="0.585"/><stop offset="0.1325" stop-opacity="0.553"/><stop offset="0.1363" stop-opacity="0.508"/><stop offset="0.1402" stop-opacity="0.460"/><stop offset="0.1441" stop-opacity="0.422"/><stop offset="0.1480" stop-opacity="0.404"/><stop offset="0.1519" stop-opacity="0.413"/><stop offset="0.1558" stop-opacity="0.450"/><stop offset="0.1597" stop-opacity="0.504"/><stop offset="0.1636" stop-opacity="0.556"/><stop offset="0.1675" stop-opacity="0.583"/><stop offset="0.1714" stop-opacity="0.572"/><stop offset="0.1753" stop-opacity="0.528"/><stop offset="0.1792" stop-opacity="0.469"/><stop offset="0.1831" stop-opacity="0.421"/><stop offset="0.1870" stop-opacity="0.398"/><stop offset="0.1909" stop-opacity="0.399"/><stop offset="0.1948" stop-opacity="0.406"/><stop offset="0.1987" stop-opacity="0.405"/><stop offset="0.2026" stop-opacity="0.407"/><stop offset="0.2065" stop-opacity="0.425"/><stop offset="0.2104" stop-opacity="0.468"/><stop offset="0.2143" stop-opacity="0.525"/><stop offset="0.2182" stop-opacity="0.582"/><stop offset="0.2220" stop-opacity="0.624"/><stop offset="0.2259" stop-opacity="0.639"/><stop offset="0.2298" stop-opacity="0.624"/><stop offset="0.2337" stop-opacity="0.582"/><stop offset="0.2376" stop-opacity="0.522"/><stop offset="0.2415" stop-opacity="0.457"/><stop offset="0.2454" stop-opacity="0.397"/><stop offset="0.2493" stop-opacity="0.351"/><stop offset="0.2532" stop-opacity="0.322"/><stop offset="0.2571" stop-opacity="0.317"/><stop offset="0.2610" stop-opacity="0.336"/><stop offset="0.2649" stop-opacity="0.368"/><stop offset="0.2688" stop-opacity="0.394"/><stop offset="0.2727" stop-opacity="0.392"/><stop offset="0.2766" stop-opacity="0.364"/><stop offset="0.2805" stop-opacity="0.328"/><stop offset="0.2844" stop-opacity="0.308"/><stop offset="0.2883" stop-opacity="0.315"/><stop offset="0.2922" stop-opacity="0.345"/><stop offset="0.2961" stop-opacity="0.380"/><stop offset="0.3000" stop-opacity="0.395"/><stop offset="0.3039" stop-opacity="0.379"/><stop offset="0.3078" stop-opacity="0.342"/><stop offset="0.3116" stop-opacity="0.304"/><stop offset="0.3155" stop-opacity="0.279"/><stop offset="0.3194" stop-opacity="0.266"/><stop offset="0.3233" stop-opacity="0.262"/><stop offset="0.3272" stop-opacity="0.261"/><stop offset="0.3311" stop-opacity="0.261"/><stop offset="0.3350" stop-opacity="0.261"/><stop offset="0.3389" stop-opacity="0.261"/><stop offset="0.3428" stop-opacity="0.261"/><stop offset="0.3467" stop-opacity="0.261"/><stop offset="0.3506" stop-opacity="0.261"/><stop offset="0.3545" stop-opacity="0.261"/><stop offset="0.3584" stop-opacity="0.261"/><stop offset="0.3623" stop-opacity="0.261"/><stop offset="0.3662" stop-opacity="0.261"/><stop offset="0.3701" stop-opacity="0.261"/><stop offset="0.3740" stop-opacity="0.261"/><stop offset="0.3779" stop-opacity="0.261"/><stop offset="0.3818" stop-opacity="0.261"/><stop offset="0.3857" stop-opacity="0.261"/><stop offset="0.3896" stop-opacity="0.261"/><stop offset="0.3935" stop-opacity="0.261"/><stop offset="0.3974" stop-opacity="0.261"/><stop offset="0.4012" stop-opacity="0.261"/><stop offset="0.4051" stop-opacity="0.261"/><stop offset="0.4090" stop-opacity="0.261"/><stop offset="0.4129" stop-opacity="0.261"/><stop offset="0.4168" stop-opacity="0.261"/><stop offset="0.4207" stop-opacity="0.261"/><stop offset="0.4246" stop-opacity="0.261"/><stop offset="0.4285" stop-opacity="0.261"/><stop offset="0.4324" stop-opacity="0.261"/><stop offset="0.4363" stop-opacity="0.261"/><stop offset="0.4402" stop-opacity="0.261"/><stop offset="0.4441" stop-opacity="0.261"/><stop offset="0.4480" stop-opacity="0.261"/><stop offset="0.4519" stop-opacity="0.261"/><stop offset="0.4558" stop-opacity="0.261"/><stop offset="0.4597" stop-opacity="0.261"/><stop offset="0.4636" stop-opacity="0.261"/><stop offset="0.4675" stop-opacity="0.261"/><stop offset="0.4714" stop-opacity="0.261"/><stop offset="0.4753" stop-opacity="0.261"/><stop offset="0.4792" stop-opacity="0.336"/><stop offset="0.4831" stop-opacity="0.336"/><stop offset="0.4869" stop-opacity="0.336"/><stop offset="0.4908" stop-opacity="0.336"/><stop offset="0.4947" stop-opacity="0.336"/><stop offset="0.4986" stop-opacity="0.336"/><stop offset="0.5025" stop-opacity="0.337"/><stop offset="0.5064" stop-opacity="0.341"/><stop offset="0.5103" stop-opacity="0.351"/><stop offset="0.5142" stop-opacity="0.373"/><stop offset="0.5181" stop-opacity="0.405"/><stop offset="0.5220" stop-opacity="0.436"/><stop offset="0.5259" stop-opacity="0.450"/><stop offset="0.5298" stop-opacity="0.436"/><stop offset="0.5337" stop-opacity="0.405"/><stop offset="0.5376" stop-opacity="0.374"/><stop offset="0.5415" stop-opacity="0.357"/><stop offset="0.5454" stop-opacity="0.359"/><stop offset="0.5493" stop-opacity="0.377"/><stop offset="0.5532" stop-opacity="0.402"/><stop offset="0.5571" stop-opacity="0.415"/><stop offset="0.5610" stop-opacity="0.410"/><stop offset="0.5649" stop-opacity="0.399"/><stop offset="0.5688" stop-opacity="0.403"/><stop offset="0.5727" stop-opacity="0.428"/><stop offset="0.5765" stop-opacity="0.466"/><stop offset="0.5804" stop-opacity="0.499"/><stop offset="0.5843" stop-opacity="0.513"/><stop offset="0.5882" stop-opacity="0.499"/><stop offset="0.5921" stop-opacity="0.464"/><stop offset="0.5960" stop-opacity="0.422"/><stop offset="0.5999" stop-opacity="0.385"/><stop offset="0.6038" stop-opacity="0.360"/><stop offset="0.6077" stop-opacity="0.347"/><stop offset="0.6116" stop-opacity="0.344"/><stop offset="0.6155" stop-opacity="0.349"/><stop offset="0.6194" stop-opacity="0.365"/><stop offset="0.6233" stop-opacity="0.393"/><stop offset="0.6272" stop-opacity="0.430"/><stop offset="0.6311" stop-opacity="0.462"/><stop offset="0.6350" stop-opacity="0.475"/><stop offset="0.6389" stop-opacity="0.462"/><stop offset="0.6428" stop-opacity="0.430"/><stop offset="0.6467" stop-opacity="0.393"/><stop offset="0.6506" stop-opacity="0.365"/><stop offset="0.6545" stop-opacity="0.349"/><stop offset="0.6584" stop-opacity="0.344"/><stop offset="0.6623" stop-opacity="0.350"/><stop offset="0.6661" stop-opacity="0.368"/><stop offset="0.6700" stop-opacity="0.398"/><stop offset="0.6739" stop-opacity="0.438"/><stop offset="0.6778" stop-opacity="0.473"/><stop offset="0.6817" stop-opacity="0.488"/><stop offset="0.6856" stop-opacity="0.475"/><stop offset="0.6895" stop-opacity="0.444"/><stop offset="0.6934" stop-opacity="0.415"/><stop offset="0.6973" stop-opacity="0.408"/><stop offset="0.7012" stop-opacity="0.425"/><stop offset="0.7051" stop-opacity="0.452"/><stop offset="0.7090" stop-opacity="0.463"/><stop offset="0.7129" stop-opacity="0.448"/><stop offset="0.7168" stop-opacity="0.413"/><stop offset="0.7207" stop-opacity="0.377"/><stop offset="0.7246" stop-opacity="0.353"/><stop offset="0.7285" stop-opacity="0.343"/><stop offset="0.7324" stop-opacity="0.342"/><stop offset="0.7363" stop-opacity="0.350"/><stop offset="0.7402" stop-opacity="0.369"/><stop offset="0.7441" stop-opacity="0.397"/><stop offset="0.7480" stop-opacity="0.425"/><stop offset="0.7519" stop-opacity="0.437"/><stop offset="0.7557" stop-opacity="0.425"/><stop offset="0.7596" stop-opacity="0.397"/><stop offset="0.7635" stop-opacity="0.369"/><stop offset="0.7674" stop-opacity="0.350"/><stop offset="0.7713" stop-opacity="0.341"/><stop offset="0.7752" stop-opacity="0.338"/><stop offset="0.7791" stop-opacity="0.214"/><stop offset="0.7830" stop-opacity="0.220"/><stop offset="0.7869" stop-opacity="0.235"/><stop offset="0.7908" stop-opacity="0.256"/><stop offset="0.7947" stop-opacity="0.277"/><stop offset="0.7986" stop-opacity="0.286"/><stop offset="0.8025" stop-opacity="0.277"/><stop offset="0.8064" stop-opacity="0.256"/><stop offset="0.8103" stop-opacity="0.235"/><stop offset="0.8142" stop-opacity="0.220"/><stop offset="0.8181" stop-opacity="0.213"/><stop offset="0.8220" stop-opacity="0.211"/><stop offset="0.8259" stop-opacity="0.210"/><stop offset="0.8298" stop-opacity="0.210"/><stop offset="0.8337" stop-opacity="0.210"/><stop offset="0.8376" stop-opacity="0.210"/><stop offset="0.8414" stop-opacity="0.210"/><stop offset="0.8453" stop-opacity="0.210"/><stop offset="0.8492" stop-opacity="0.210"/><stop offset="0.8531" stop-opacity="0.210"/><stop offset="0.8570" stop-opacity="0.143"/><stop offset="0.8609" stop-opacity="0.143"/><stop offset="0.8648" stop-opacity="0.143"/><stop offset="0.8687" stop-opacity="0.145"/><stop offset="0.8726" stop-opacity="0.151"/><stop offset="0.8765" stop-opacity="0.166"/><stop offset="0.8804" stop-opacity="0.198"/><stop offset="0.8843" stop-opacity="0.253"/><stop offset="0.8882" stop-opacity="0.324"/><stop offset="0.8921" stop-opacity="0.386"/><stop offset="0.8960" stop-opacity="0.412"/><stop offset="0.8999" stop-opacity="0.387"/><stop offset="0.9038" stop-opacity="0.324"/><stop offset="0.9077" stop-opacity="0.256"/><stop offset="0.9116" stop-opacity="0.208"/><stop offset="0.9155" stop-opacity="0.195"/><stop offset="0.9194" stop-opacity="0.221"/><stop offset="0.9233" stop-opacity="0.278"/><stop offset="0.9272" stop-opacity="0.336"/><stop offset="0.9310" stop-opacity="0.361"/><stop offset="0.9349" stop-opacity="0.336"/><stop offset="0.9388" stop-opacity="0.275"/><stop offset="0.9427" stop-opacity="0.214"/><stop offset="0.9466" stop-opacity="0.172"/><stop offset="0.9505" stop-opacity="0.152"/><stop offset="0.9544" stop-opacity="0.145"/><stop offset="0.9583" stop-opacity="0.143"/><stop offset="0.9622" stop-opacity="0.143"/><stop offset="0.9661" stop-opacity="0.143"/><stop offset="0.9700" stop-opacity="0.143"/><stop offset="0.9739" stop-opacity="0.143"/><stop offset="0.9778" stop-opacity="0.143"/><stop offset="0.9817" stop-opacity="0.143"/><stop offset="0.9856" stop-opacity="0.143"/><stop offset="0.9895" stop-opacity="0.143"/><stop offset="0.9934" stop-opacity="0.143"/><stop offset="0.9973" stop-opacity="0.143"/><stop offset="1.0012" stop-opacity="0.000"/></linearGradient><linearGradient id="lg11" x1="0" y1="570" x2="0" y2="826.7" gradientUnits="userSpaceOnUse"><stop offset="0.0039" stop-opacity="0.321"/><stop offset="0.0078" stop-opacity="0.345"/><stop offset="0.0117" stop-opacity="0.321"/><stop offset="0.0156" stop-opacity="0.275"/><stop offset="0.0195" stop-opacity="0.243"/><stop offset="0.0234" stop-opacity="0.232"/><stop offset="0.0273" stop-opacity="0.234"/><stop offset="0.0312" stop-opacity="0.250"/><stop offset="0.0351" stop-opacity="0.289"/><stop offset="0.0390" stop-opacity="0.358"/><stop offset="0.0429" stop-opacity="0.443"/><stop offset="0.0467" stop-opacity="0.504"/><stop offset="0.0506" stop-opacity="0.504"/><stop offset="0.0545" stop-opacity="0.443"/><stop offset="0.0584" stop-opacity="0.358"/><stop offset="0.0623" stop-opacity="0.289"/><stop offset="0.0662" stop-opacity="0.250"/><stop offset="0.0701" stop-opacity="0.233"/><stop offset="0.0740" stop-opacity="0.229"/><stop offset="0.0779" stop-opacity="0.229"/><stop offset="0.0818" stop-opacity="0.235"/><stop offset="0.0857" stop-opacity="0.253"/><stop offset="0.0896" stop-opacity="0.283"/><stop offset="0.0935" stop-opacity="0.311"/><stop offset="0.0974" stop-opacity="0.317"/><stop offset="0.1013" stop-opacity="0.303"/><stop offset="0.1052" stop-opacity="0.294"/><stop offset="0.1091" stop-opacity="0.307"/><stop offset="0.1130" stop-opacity="0.345"/><stop offset="0.1169" stop-opacity="0.397"/><stop offset="0.1208" stop-opacity="0.452"/><stop offset="0.1247" stop-opacity="0.499"/><stop offset="0.1286" stop-opacity="0.527"/><stop offset="0.1325" stop-opacity="0.528"/><stop offset="0.1363" stop-opacity="0.506"/><stop offset="0.1402" stop-opacity="0.469"/><stop offset="0.1441" stop-opacity="0.435"/><stop offset="0.1480" stop-opacity="0.418"/><stop offset="0.1519" stop-opacity="0.426"/><stop offset="0.1558" stop-opacity="0.457"/><stop offset="0.1597" stop-opacity="0.494"/><stop offset="0.1636" stop-opacity="0.518"/><stop offset="0.1675" stop-opacity="0.512"/><stop offset="0.1714" stop-opacity="0.475"/><stop offset="0.1753" stop-opacity="0.418"/><stop offset="0.1792" stop-opacity="0.360"/><stop offset="0.1831" stop-opacity="0.322"/><stop offset="0.1870" stop-opacity="0.310"/><stop offset="0.1909" stop-opacity="0.319"/><stop offset="0.1948" stop-opacity="0.325"/><stop offset="0.1987" stop-opacity="0.318"/><stop offset="0.2026" stop-opacity="0.306"/><stop offset="0.2065" stop-opacity="0.311"/><stop offset="0.2104" stop-opacity="0.341"/><stop offset="0.2143" stop-opacity="0.394"/><stop offset="0.2182" stop-opacity="0.458"/><stop offset="0.2220" stop-opacity="0.519"/><stop offset="0.2259" stop-opacity="0.564"/><stop offset="0.2298" stop-opacity="0.580"/><stop offset="0.2337" stop-opacity="0.564"/><stop offset="0.2376" stop-opacity="0.519"/><stop offset="0.2415" stop-opacity="0.457"/><stop offset="0.2454" stop-opacity="0.392"/><stop offset="0.2493" stop-opacity="0.335"/><stop offset="0.2532" stop-opacity="0.293"/><stop offset="0.2571" stop-opacity="0.267"/><stop offset="0.2610" stop-opacity="0.261"/><stop offset="0.2649" stop-opacity="0.275"/><stop offset="0.2688" stop-opacity="0.306"/><stop offset="0.2727" stop-opacity="0.339"/><stop offset="0.2766" stop-opacity="0.353"/><stop offset="0.2805" stop-opacity="0.339"/><stop offset="0.2844" stop-opacity="0.306"/><stop offset="0.2883" stop-opacity="0.278"/><stop offset="0.2922" stop-opacity="0.271"/><stop offset="0.2961" stop-opacity="0.290"/><stop offset="0.3000" stop-opacity="0.323"/><stop offset="0.3039" stop-opacity="0.349"/><stop offset="0.3078" stop-opacity="0.349"/><stop offset="0.3116" stop-opacity="0.322"/><stop offset="0.3155" stop-opacity="0.285"/><stop offset="0.3194" stop-opacity="0.254"/><stop offset="0.3233" stop-opacity="0.237"/><stop offset="0.3272" stop-opacity="0.230"/><stop offset="0.3311" stop-opacity="0.228"/><stop offset="0.3350" stop-opacity="0.227"/><stop offset="0.3389" stop-opacity="0.227"/><stop offset="0.3428" stop-opacity="0.227"/><stop offset="0.3467" stop-opacity="0.227"/><stop offset="0.3506" stop-opacity="0.227"/><stop offset="0.3545" stop-opacity="0.227"/><stop offset="0.3584" stop-opacity="0.227"/><stop offset="0.3623" stop-opacity="0.227"/><stop offset="0.3662" stop-opacity="0.227"/><stop offset="0.3701" stop-opacity="0.227"/><stop offset="0.3740" stop-opacity="0.227"/><stop offset="0.3779" stop-opacity="0.227"/><stop offset="0.3818" stop-opacity="0.227"/><stop offset="0.3857" stop-opacity="0.227"/><stop offset="0.3896" stop-opacity="0.227"/><stop offset="0.3935" stop-opacity="0.227"/><stop offset="0.3974" stop-opacity="0.227"/><stop offset="0.4012" stop-opacity="0.227"/><stop offset="0.4051" stop-opacity="0.227"/><stop offset="0.4090" stop-opacity="0.227"/><stop offset="0.4129" stop-opacity="0.227"/><stop offset="0.4168" stop-opacity="0.227"/><stop offset="0.4207" stop-opacity="0.227"/><stop offset="0.4246" stop-opacity="0.227"/><stop offset="0.4285" stop-opacity="0.227"/><stop offset="0.4324" stop-opacity="0.227"/><stop offset="0.4363" stop-opacity="0.227"/><stop offset="0.4402" stop-opacity="0.227"/><stop offset="0.4441" stop-opacity="0.227"/><stop offset="0.4480" stop-opacity="0.227"/><stop offset="0.4519" stop-opacity="0.227"/><stop offset="0.4558" stop-opacity="0.227"/><stop offset="0.4597" stop-opacity="0.227"/><stop offset="0.4636" stop-opacity="0.227"/><stop offset="0.4675" stop-opacity="0.227"/><stop offset="0.4714" stop-opacity="0.227"/><stop offset="0.4753" stop-opacity="0.227"/><stop offset="0.4792" stop-opacity="0.303"/><stop offset="0.4831" stop-opacity="0.303"/><stop offset="0.4869" stop-opacity="0.303"/><stop offset="0.4908" stop-opacity="0.303"/><stop offset="0.4947" stop-opacity="0.303"/><stop offset="0.4986" stop-opacity="0.303"/><stop offset="0.5025" stop-opacity="0.303"/><stop offset="0.5064" stop-opacity="0.303"/><stop offset="0.5103" stop-opacity="0.304"/><stop offset="0.5142" stop-opacity="0.307"/><stop offset="0.5181" stop-opacity="0.316"/><stop offset="0.5220" stop-opacity="0.335"/><stop offset="0.5259" stop-opacity="0.364"/><stop offset="0.5298" stop-opacity="0.392"/><stop offset="0.5337" stop-opacity="0.403"/><stop offset="0.5376" stop-opacity="0.392"/><stop offset="0.5415" stop-opacity="0.364"/><stop offset="0.5454" stop-opacity="0.335"/><stop offset="0.5493" stop-opacity="0.316"/><stop offset="0.5532" stop-opacity="0.307"/><stop offset="0.5571" stop-opacity="0.304"/><stop offset="0.5610" stop-opacity="0.303"/><stop offset="0.5649" stop-opacity="0.304"/><stop offset="0.5688" stop-opacity="0.307"/><stop offset="0.5727" stop-opacity="0.315"/><stop offset="0.5765" stop-opacity="0.334"/><stop offset="0.5804" stop-opacity="0.365"/><stop offset="0.5843" stop-opacity="0.404"/><stop offset="0.5882" stop-opacity="0.440"/><stop offset="0.5921" stop-opacity="0.454"/><stop offset="0.5960" stop-opacity="0.440"/><stop offset="0.5999" stop-opacity="0.404"/><stop offset="0.6038" stop-opacity="0.365"/><stop offset="0.6077" stop-opacity="0.334"/><stop offset="0.6116" stop-opacity="0.317"/><stop offset="0.6155" stop-opacity="0.312"/><stop offset="0.6194" stop-opacity="0.319"/><stop offset="0.6233" stop-opacity="0.340"/><stop offset="0.6272" stop-opacity="0.371"/><stop offset="0.6311" stop-opacity="0.403"/><stop offset="0.6350" stop-opacity="0.416"/><stop offset="0.6389" stop-opacity="0.403"/><stop offset="0.6428" stop-opacity="0.372"/><stop offset="0.6467" stop-opacity="0.341"/><stop offset="0.6506" stop-opacity="0.323"/><stop offset="0.6545" stop-opacity="0.323"/><stop offset="0.6584" stop-opacity="0.341"/><stop offset="0.6623" stop-opacity="0.372"/><stop offset="0.6661" stop-opacity="0.403"/><stop offset="0.6700" stop-opacity="0.416"/><stop offset="0.6739" stop-opacity="0.403"/><stop offset="0.6778" stop-opacity="0.371"/><stop offset="0.6817" stop-opacity="0.339"/><stop offset="0.6856" stop-opacity="0.318"/><stop offset="0.6895" stop-opacity="0.308"/><stop offset="0.6934" stop-opacity="0.305"/><stop offset="0.6973" stop-opacity="0.306"/><stop offset="0.7012" stop-opacity="0.313"/><stop offset="0.7051" stop-opacity="0.328"/><stop offset="0.7090" stop-opacity="0.354"/><stop offset="0.7129" stop-opacity="0.387"/><stop offset="0.7168" stop-opacity="0.417"/><stop offset="0.7207" stop-opacity="0.429"/><stop offset="0.7246" stop-opacity="0.417"/><stop offset="0.7285" stop-opacity="0.387"/><stop offset="0.7324" stop-opacity="0.354"/><stop offset="0.7363" stop-opacity="0.329"/><stop offset="0.7402" stop-opacity="0.314"/><stop offset="0.7441" stop-opacity="0.309"/><stop offset="0.7480" stop-opacity="0.314"/><stop offset="0.7519" stop-opacity="0.327"/><stop offset="0.7557" stop-opacity="0.348"/><stop offset="0.7596" stop-opacity="0.369"/><stop offset="0.7635" stop-opacity="0.378"/><stop offset="0.7674" stop-opacity="0.369"/><stop offset="0.7713" stop-opacity="0.348"/><stop offset="0.7752" stop-opacity="0.327"/><stop offset="0.7791" stop-opacity="0.195"/><stop offset="0.7830" stop-opacity="0.188"/><stop offset="0.7869" stop-opacity="0.186"/><stop offset="0.7908" stop-opacity="0.185"/><stop offset="0.7947" stop-opacity="0.185"/><stop offset="0.7986" stop-opacity="0.185"/><stop offset="0.8025" stop-opacity="0.185"/><stop offset="0.8064" stop-opacity="0.185"/><stop offset="0.8103" stop-opacity="0.185"/><stop offset="0.8142" stop-opacity="0.185"/><stop offset="0.8181" stop-opacity="0.185"/><stop offset="0.8220" stop-opacity="0.185"/><stop offset="0.8259" stop-opacity="0.185"/><stop offset="0.8298" stop-opacity="0.185"/><stop offset="0.8337" stop-opacity="0.185"/><stop offset="0.8376" stop-opacity="0.185"/><stop offset="0.8414" stop-opacity="0.185"/><stop offset="0.8453" stop-opacity="0.185"/><stop offset="0.8492" stop-opacity="0.185"/><stop offset="0.8531" stop-opacity="0.185"/><stop offset="0.8570" stop-opacity="0.126"/><stop offset="0.8609" stop-opacity="0.126"/><stop offset="0.8648" stop-opacity="0.126"/><stop offset="0.8687" stop-opacity="0.126"/><stop offset="0.8726" stop-opacity="0.127"/><stop offset="0.8765" stop-opacity="0.128"/><stop offset="0.8804" stop-opacity="0.133"/><stop offset="0.8843" stop-opacity="0.147"/><stop offset="0.8882" stop-opacity="0.178"/><stop offset="0.8921" stop-opacity="0.230"/><stop offset="0.8960" stop-opacity="0.296"/><stop offset="0.8999" stop-opacity="0.354"/><stop offset="0.9038" stop-opacity="0.378"/><stop offset="0.9077" stop-opacity="0.355"/><stop offset="0.9116" stop-opacity="0.296"/><stop offset="0.9155" stop-opacity="0.232"/><stop offset="0.9194" stop-opacity="0.187"/><stop offset="0.9233" stop-opacity="0.175"/><stop offset="0.9272" stop-opacity="0.199"/><stop offset="0.9310" stop-opacity="0.250"/><stop offset="0.9349" stop-opacity="0.304"/><stop offset="0.9388" stop-opacity="0.328"/><stop offset="0.9427" stop-opacity="0.304"/><stop offset="0.9466" stop-opacity="0.248"/><stop offset="0.9505" stop-opacity="0.192"/><stop offset="0.9544" stop-opacity="0.153"/><stop offset="0.9583" stop-opacity="0.135"/><stop offset="0.9622" stop-opacity="0.128"/><stop offset="0.9661" stop-opacity="0.126"/><stop offset="0.9700" stop-opacity="0.126"/><stop offset="0.9739" stop-opacity="0.126"/><stop offset="0.9778" stop-opacity="0.126"/><stop offset="0.9817" stop-opacity="0.126"/><stop offset="0.9856" stop-opacity="0.126"/><stop offset="0.9895" stop-opacity="0.126"/><stop offset="0.9934" stop-opacity="0.126"/><stop offset="0.9973" stop-opacity="0.126"/><stop offset="1.0012" stop-opacity="0.000"/></linearGradient><linearGradient id="lg12" x1="0" y1="570" x2="0" y2="826.7" gradientUnits="userSpaceOnUse"><stop offset="0.0039" stop-opacity="0.287"/><stop offset="0.0078" stop-opacity="0.311"/><stop offset="0.0117" stop-opacity="0.287"/><stop offset="0.0156" stop-opacity="0.242"/><stop offset="0.0195" stop-opacity="0.209"/><stop offset="0.0234" stop-opacity="0.198"/><stop offset="0.0273" stop-opacity="0.200"/><stop offset="0.0312" stop-opacity="0.215"/><stop offset="0.0351" stop-opacity="0.251"/><stop offset="0.0390" stop-opacity="0.316"/><stop offset="0.0429" stop-opacity="0.396"/><stop offset="0.0467" stop-opacity="0.454"/><stop offset="0.0506" stop-opacity="0.454"/><stop offset="0.0545" stop-opacity="0.396"/><stop offset="0.0584" stop-opacity="0.316"/><stop offset="0.0623" stop-opacity="0.252"/><stop offset="0.0662" stop-opacity="0.217"/><stop offset="0.0701" stop-opacity="0.210"/><stop offset="0.0740" stop-opacity="0.226"/><stop offset="0.0779" stop-opacity="0.255"/><stop offset="0.0818" stop-opacity="0.273"/><stop offset="0.0857" stop-opacity="0.267"/><stop offset="0.0896" stop-opacity="0.261"/><stop offset="0.0935" stop-opacity="0.284"/><stop offset="0.0974" stop-opacity="0.340"/><stop offset="0.1013" stop-opacity="0.409"/><stop offset="0.1052" stop-opacity="0.456"/><stop offset="0.1091" stop-opacity="0.456"/><stop offset="0.1130" stop-opacity="0.409"/><stop offset="0.1169" stop-opacity="0.340"/><stop offset="0.1208" stop-opacity="0.279"/><stop offset="0.1247" stop-opacity="0.247"/><stop offset="0.1286" stop-opacity="0.248"/><stop offset="0.1325" stop-opacity="0.282"/><stop offset="0.1363" stop-opacity="0.342"/><stop offset="0.1402" stop-opacity="0.413"/><stop offset="0.1441" stop-opacity="0.473"/><stop offset="0.1480" stop-opacity="0.496"/><stop offset="0.1519" stop-opacity="0.473"/><stop offset="0.1558" stop-opacity="0.413"/><stop offset="0.1597" stop-opacity="0.341"/><stop offset="0.1636" stop-opacity="0.277"/><stop offset="0.1675" stop-opacity="0.235"/><stop offset="0.1714" stop-opacity="0.214"/><stop offset="0.1753" stop-opacity="0.213"/><stop offset="0.1792" stop-opacity="0.231"/><stop offset="0.1831" stop-opacity="0.264"/><stop offset="0.1870" stop-opacity="0.290"/><stop offset="0.1909" stop-opacity="0.290"/><stop offset="0.1948" stop-opacity="0.263"/><stop offset="0.1987" stop-opacity="0.230"/><stop offset="0.2026" stop-opacity="0.210"/><stop offset="0.2065" stop-opacity="0.205"/><stop offset="0.2104" stop-opacity="0.214"/><stop offset="0.2143" stop-opacity="0.237"/><stop offset="0.2182" stop-opacity="0.277"/><stop offset="0.2220" stop-opacity="0.335"/><stop offset="0.2259" stop-opacity="0.405"/><stop offset="0.2298" stop-opacity="0.468"/><stop offset="0.2337" stop-opacity="0.507"/><stop offset="0.2376" stop-opacity="0.507"/><stop offset="0.2415" stop-opacity="0.468"/><stop offset="0.2454" stop-opacity="0.405"/><stop offset="0.2493" stop-opacity="0.335"/><stop offset="0.2532" stop-opacity="0.277"/><stop offset="0.2571" stop-opacity="0.237"/><stop offset="0.2610" stop-opacity="0.213"/><stop offset="0.2649" stop-opacity="0.203"/><stop offset="0.2688" stop-opacity="0.203"/><stop offset="0.2727" stop-opacity="0.215"/><stop offset="0.2766" stop-opacity="0.243"/><stop offset="0.2805" stop-opacity="0.285"/><stop offset="0.2844" stop-opacity="0.327"/><stop offset="0.2883" stop-opacity="0.345"/><stop offset="0.2922" stop-opacity="0.327"/><stop offset="0.2961" stop-opacity="0.285"/><stop offset="0.3000" stop-opacity="0.244"/><stop offset="0.3039" stop-opacity="0.220"/><stop offset="0.3078" stop-opacity="0.220"/><stop offset="0.3116" stop-opacity="0.244"/><stop offset="0.3155" stop-opacity="0.285"/><stop offset="0.3194" stop-opacity="0.327"/><stop offset="0.3233" stop-opacity="0.345"/><stop offset="0.3272" stop-opacity="0.327"/><stop offset="0.3311" stop-opacity="0.288"/><stop offset="0.3350" stop-opacity="0.253"/><stop offset="0.3389" stop-opacity="0.242"/><stop offset="0.3428" stop-opacity="0.257"/><stop offset="0.3467" stop-opacity="0.282"/><stop offset="0.3506" stop-opacity="0.294"/><stop offset="0.3545" stop-opacity="0.281"/><stop offset="0.3584" stop-opacity="0.250"/><stop offset="0.3623" stop-opacity="0.221"/><stop offset="0.3662" stop-opacity="0.204"/><stop offset="0.3701" stop-opacity="0.230"/><stop offset="0.3740" stop-opacity="0.227"/><stop offset="0.3779" stop-opacity="0.227"/><stop offset="0.3818" stop-opacity="0.227"/><stop offset="0.3857" stop-opacity="0.227"/><stop offset="0.3896" stop-opacity="0.227"/><stop offset="0.3935" stop-opacity="0.227"/><stop offset="0.3974" stop-opacity="0.227"/><stop offset="0.4012" stop-opacity="0.227"/><stop offset="0.4051" stop-opacity="0.227"/><stop offset="0.4090" stop-opacity="0.227"/><stop offset="0.4129" stop-opacity="0.227"/><stop offset="0.4168" stop-opacity="0.227"/><stop offset="0.4207" stop-opacity="0.227"/><stop offset="0.4246" stop-opacity="0.227"/><stop offset="0.4285" stop-opacity="0.227"/><stop offset="0.4324" stop-opacity="0.227"/><stop offset="0.4363" stop-opacity="0.227"/><stop offset="0.4402" stop-opacity="0.229"/><stop offset="0.4441" stop-opacity="0.235"/><stop offset="0.4480" stop-opacity="0.252"/><stop offset="0.4519" stop-opacity="0.287"/><stop offset="0.4558" stop-opacity="0.339"/><stop offset="0.4597" stop-opacity="0.390"/><stop offset="0.4636" stop-opacity="0.412"/><stop offset="0.4675" stop-opacity="0.390"/><stop offset="0.4714" stop-opacity="0.339"/><stop offset="0.4753" stop-opacity="0.287"/><stop offset="0.4792" stop-opacity="0.252"/><stop offset="0.4831" stop-opacity="0.235"/><stop offset="0.4869" stop-opacity="0.229"/><stop offset="0.4908" stop-opacity="0.229"/><stop offset="0.4947" stop-opacity="0.234"/><stop offset="0.4986" stop-opacity="0.247"/><stop offset="0.5025" stop-opacity="0.276"/><stop offset="0.5064" stop-opacity="0.319"/><stop offset="0.5103" stop-opacity="0.360"/><stop offset="0.5142" stop-opacity="0.378"/><stop offset="0.5181" stop-opacity="0.360"/><stop offset="0.5220" stop-opacity="0.319"/><stop offset="0.5259" stop-opacity="0.276"/><stop offset="0.5298" stop-opacity="0.248"/><stop offset="0.5337" stop-opacity="0.235"/><stop offset="0.5376" stop-opacity="0.235"/><stop offset="0.5415" stop-opacity="0.247"/><stop offset="0.5454" stop-opacity="0.271"/><stop offset="0.5493" stop-opacity="0.298"/><stop offset="0.5532" stop-opacity="0.311"/><stop offset="0.5571" stop-opacity="0.298"/><stop offset="0.5610" stop-opacity="0.271"/><stop offset="0.5649" stop-opacity="0.246"/><stop offset="0.5688" stop-opacity="0.233"/><stop offset="0.5727" stop-opacity="0.229"/><stop offset="0.5765" stop-opacity="0.230"/><stop offset="0.5804" stop-opacity="0.236"/><stop offset="0.5843" stop-opacity="0.250"/><stop offset="0.5882" stop-opacity="0.279"/><stop offset="0.5921" stop-opacity="0.328"/><stop offset="0.5960" stop-opacity="0.393"/><stop offset="0.5999" stop-opacity="0.460"/><stop offset="0.6038" stop-opacity="0.504"/><stop offset="0.6077" stop-opacity="0.509"/><stop offset="0.6116" stop-opacity="0.471"/><stop offset="0.6155" stop-opacity="0.407"/><stop offset="0.6194" stop-opacity="0.341"/><stop offset="0.6233" stop-opacity="0.291"/><stop offset="0.6272" stop-opacity="0.268"/><stop offset="0.6311" stop-opacity="0.274"/><stop offset="0.6350" stop-opacity="0.307"/><stop offset="0.6389" stop-opacity="0.355"/><stop offset="0.6428" stop-opacity="0.390"/><stop offset="0.6467" stop-opacity="0.390"/><stop offset="0.6506" stop-opacity="0.354"/><stop offset="0.6545" stop-opacity="0.304"/><stop offset="0.6584" stop-opacity="0.264"/><stop offset="0.6623" stop-opacity="0.242"/><stop offset="0.6661" stop-opacity="0.238"/><stop offset="0.6700" stop-opacity="0.251"/><stop offset="0.6739" stop-opacity="0.280"/><stop offset="0.6778" stop-opacity="0.313"/><stop offset="0.6817" stop-opacity="0.328"/><stop offset="0.6856" stop-opacity="0.314"/><stop offset="0.6895" stop-opacity="0.285"/><stop offset="0.6934" stop-opacity="0.265"/><stop offset="0.6973" stop-opacity="0.271"/><stop offset="0.7012" stop-opacity="0.303"/><stop offset="0.7051" stop-opacity="0.358"/><stop offset="0.7090" stop-opacity="0.422"/><stop offset="0.7129" stop-opacity="0.475"/><stop offset="0.7168" stop-opacity="0.496"/><stop offset="0.7207" stop-opacity="0.475"/><stop offset="0.7246" stop-opacity="0.422"/><stop offset="0.7285" stop-opacity="0.358"/><stop offset="0.7324" stop-opacity="0.302"/><stop offset="0.7363" stop-opacity="0.264"/><stop offset="0.7402" stop-opacity="0.243"/><stop offset="0.7441" stop-opacity="0.237"/><stop offset="0.7480" stop-opacity="0.244"/><stop offset="0.7519" stop-opacity="0.265"/><stop offset="0.7557" stop-opacity="0.298"/><stop offset="0.7596" stop-opacity="0.331"/><stop offset="0.7635" stop-opacity="0.345"/><stop offset="0.7674" stop-opacity="0.331"/><stop offset="0.7713" stop-opacity="0.298"/><stop offset="0.7752" stop-opacity="0.265"/><stop offset="0.7791" stop-opacity="0.167"/><stop offset="0.7830" stop-opacity="0.156"/><stop offset="0.7869" stop-opacity="0.153"/><stop offset="0.7908" stop-opacity="0.152"/><stop offset="0.7947" stop-opacity="0.151"/><stop offset="0.7986" stop-opacity="0.151"/><stop offset="0.8025" stop-opacity="0.151"/><stop offset="0.8064" stop-opacity="0.151"/><stop offset="0.8103" stop-opacity="0.151"/><stop offset="0.8142" stop-opacity="0.151"/><stop offset="0.8181" stop-opacity="0.151"/><stop offset="0.8220" stop-opacity="0.151"/><stop offset="0.8259" stop-opacity="0.151"/><stop offset="0.8298" stop-opacity="0.151"/><stop offset="0.8337" stop-opacity="0.151"/><stop offset="0.8376" stop-opacity="0.151"/><stop offset="0.8414" stop-opacity="0.151"/><stop offset="0.8453" stop-opacity="0.151"/><stop offset="0.8492" stop-opacity="0.151"/><stop offset="0.8531" stop-opacity="0.151"/><stop offset="0.8570" stop-opacity="0.109"/><stop offset="0.8609" stop-opacity="0.109"/><stop offset="0.8648" stop-opacity="0.109"/><stop offset="0.8687" stop-opacity="0.109"/><stop offset="0.8726" stop-opacity="0.109"/><stop offset="0.8765" stop-opacity="0.109"/><stop offset="0.8804" stop-opacity="0.110"/><stop offset="0.8843" stop-opacity="0.113"/><stop offset="0.8882" stop-opacity="0.122"/><stop offset="0.8921" stop-opacity="0.143"/><stop offset="0.8960" stop-opacity="0.184"/><stop offset="0.8999" stop-opacity="0.245"/><stop offset="0.9038" stop-opacity="0.311"/><stop offset="0.9077" stop-opacity="0.355"/><stop offset="0.9116" stop-opacity="0.355"/><stop offset="0.9155" stop-opacity="0.312"/><stop offset="0.9194" stop-opacity="0.249"/><stop offset="0.9233" stop-opacity="0.198"/><stop offset="0.9272" stop-opacity="0.180"/><stop offset="0.9310" stop-opacity="0.201"/><stop offset="0.9349" stop-opacity="0.247"/><stop offset="0.9388" stop-opacity="0.287"/><stop offset="0.9427" stop-opacity="0.291"/><stop offset="0.9466" stop-opacity="0.254"/><stop offset="0.9505" stop-opacity="0.199"/><stop offset="0.9544" stop-opacity="0.153"/><stop offset="0.9583" stop-opacity="0.126"/><stop offset="0.9622" stop-opacity="0.114"/><stop offset="0.9661" stop-opacity="0.110"/><stop offset="0.9700" stop-opacity="0.109"/><stop offset="0.9739" stop-opacity="0.109"/><stop offset="0.9778" stop-opacity="0.109"/><stop offset="0.9817" stop-opacity="0.109"/><stop offset="0.9856" stop-opacity="0.109"/><stop offset="0.9895" stop-opacity="0.109"/><stop offset="0.9934" stop-opacity="0.109"/><stop offset="0.9973" stop-opacity="0.109"/><stop offset="1.0012" stop-opacity="0.000"/></linearGradient></defs>
<rect x="46.0" y="570.0" width="220.0" height="256.7" fill="rgb(113,113,113)"/>
<rect x="266.0" y="570.0" width="133.0" height="256.7" fill="rgb(117,117,117)"/>
<rect x="399.0" y="570.0" width="218.0" height="256.7" fill="rgb(119,119,119)"/>
<g clip-path="url(#gclip)"><g filter="url(#gb)">
<g filter="url(#blh)">
<rect x="92.0" y="570.0" width="47.0" height="256.7" fill="url(#lg1)"/>
<rect x="144.0" y="570.0" width="38.0" height="256.7" fill="url(#lg2)"/>
<rect x="186.0" y="570.0" width="37.0" height="256.7" fill="url(#lg3)"/>
<rect x="227.0" y="570.0" width="37.0" height="256.7" fill="url(#lg4)"/>
<rect x="268.0" y="570.0" width="42.0" height="256.7" fill="url(#lg5)"/>
<rect x="317.0" y="570.0" width="36.0" height="256.7" fill="url(#lg6)"/>
<rect x="359.0" y="570.0" width="37.0" height="256.7" fill="url(#lg7)"/>
<rect x="402.0" y="570.0" width="37.0" height="256.7" fill="url(#lg8)"/>
<rect x="445.0" y="570.0" width="36.0" height="123.0" fill="url(#lg9)"/>
<rect x="451.0" y="693.0" width="30.0" height="133.7" fill="url(#lg9)"/>
<rect x="487.0" y="570.0" width="37.0" height="123.0" fill="url(#lg10)"/>
<rect x="490.0" y="693.0" width="31.0" height="133.7" fill="url(#lg10)"/>
<rect x="529.0" y="570.0" width="38.0" height="123.0" fill="url(#lg11)"/>
<rect x="532.0" y="693.0" width="33.0" height="133.7" fill="url(#lg11)"/>
<rect x="574.0" y="570.0" width="38.0" height="123.0" fill="url(#lg12)"/>
<rect x="576.0" y="693.0" width="37.0" height="133.7" fill="url(#lg12)"/>
</g>
<rect x="229" y="566" width="36" height="22" fill="#fff" fill-opacity="0.09" filter="url(#blb)"/>
<g filter="url(#bl)">
<path d="M55.0,577.8L89.0,581.2L89.0,584.2L55.0,580.8Z" fill="url(#mk)" fill-opacity="0.42"/>
<path d="M48.0,589.5L89.0,593.0L89.0,596.5L48.0,593.0Z" fill="url(#mk)" fill-opacity="0.55"/>
<path d="M48.0,603.0L88.0,605.5L88.0,609.0L48.0,606.5Z" fill="url(#mk)" fill-opacity="0.55"/>
<path d="M52.0,624.2L88.0,627.5L88.0,631.0L52.0,627.8Z" fill="url(#mk)" fill-opacity="0.52"/>
<path d="M48.0,643.5L87.0,648.2L87.0,653.2L48.0,648.5Z" fill="url(#mk)" fill-opacity="0.68"/>
<path d="M50.0,673.0L84.0,679.8L84.0,684.2L50.0,677.5Z" fill="url(#mk)" fill-opacity="0.6"/>
<path d="M50.0,724.1L82.0,732.1L82.0,737.3L50.0,729.3Z" fill="url(#mk)" fill-opacity="0.66"/>
<path d="M50.0,778.9L78.0,786.9L78.0,793.1L50.0,785.1Z" fill="url(#mk)" fill-opacity="0.68"/>
<path d="M91.0,699.1L137.0,703.1L137.0,706.5L91.0,702.5Z" fill="#000" fill-opacity="0.5"/>
<path d="M91.0,709.8L137.0,713.8L137.0,717.2L91.0,713.2Z" fill="#000" fill-opacity="0.5"/>
<path d="M143.0,702.9L180.0,702.9L180.0,706.3L143.0,706.3Z" fill="#000" fill-opacity="0.46"/>
<path d="M143.0,712.3L180.0,712.3L180.0,715.7L143.0,715.7Z" fill="#000" fill-opacity="0.46"/>
<path d="M185.0,701.6L221.0,701.6L221.0,705.0L185.0,705.0Z" fill="#000" fill-opacity="0.42"/>
<path d="M185.0,711.8L221.0,711.8L221.0,715.2L185.0,715.2Z" fill="#000" fill-opacity="0.42"/>
<path d="M226.0,701.6L262.0,701.6L262.0,705.0L226.0,705.0Z" fill="#000" fill-opacity="0.5"/>
<path d="M226.0,712.3L262.0,712.3L262.0,715.7L226.0,715.7Z" fill="#000" fill-opacity="0.5"/>
<path d="M268.0,656.5L308.0,656.5L308.0,659.0L268.0,659.0Z" fill="#000" fill-opacity="0.3"/>
<path d="M318.0,659.2L352.0,659.2L352.0,663.8L318.0,663.8Z" fill="#000" fill-opacity="0.48"/>
<path d="M360.0,661.5L395.0,661.5L395.0,666.5L360.0,666.5Z" fill="#000" fill-opacity="0.52"/>
</g>
<g filter="url(#blb)">
<path d="M89.5,657 Q89.5,654.5 94,654.5 L132,656 Q138.5,656.5 138.5,661 L138,667 Q136,672 128,672 L112,668.5 L95,663.5 Q89.5,661.5 89.5,657Z" fill="#000" fill-opacity="0.7"/>
<path d="M141,660.5 Q141,657.5 147,657.5 L176,657.5 Q181,658 181,662 L181,664 Q180,668.5 174,668.5 L147,668.5 Q141,668 141,664Z" fill="#000" fill-opacity="0.68"/>
<path d="M184,659.5 Q184,656.5 190,656.5 L218,656.5 Q223,657 223,660 L223,662 Q222,665.5 216,665.5 L190,665.5 Q184,665 184,662Z" fill="#000" fill-opacity="0.66"/>
<path d="M226,658 Q226,654 232,654 L259,654 Q265,655 265,659 L265,662 Q264,667 257,667 L232,667 Q226,666 226,662Z" fill="#000" fill-opacity="0.7"/>
<path d="M399.5,665 Q399.5,658.5 406,658.5 L436,660.5 Q440.5,661 440.5,666 L440.5,674 Q440,678.5 434,678.5 L410,674.5 Q399.5,672 399.5,665Z" fill="#000" fill-opacity="0.76"/>
<path d="M440.5,664 Q440.5,659 448,659 L480,659.5 Q486.5,660.5 486.5,667 L485.5,682 Q483,692 478,697 L458,697 Q450,690 446,682 Q440.5,672 440.5,664Z" fill="#000" fill-opacity="0.82"/>
<path d="M483.5,668 Q483.5,662.5 491,662.5 L522,663 Q528.5,664.5 528.5,671 L527.5,683 Q525,690 520,694 L495,694 Q488,688 486,682 Q483.5,674 483.5,668Z" fill="#000" fill-opacity="0.82"/>
<path d="M527,672 Q527,667 534,667 L567,667.5 Q573.5,669 573.5,676 L571,684 Q567,690 560,691.5 L540,691.5 Q533,689 530,683 Q527,677 527,672Z" fill="#000" fill-opacity="0.8"/>
<path d="M575,676 Q575,671 582,671 L608,671 Q613,672 613,676 L613,678 Q612,682 607,682 L582,682 Q575,681 575,678Z" fill="#000" fill-opacity="0.38"/>
</g>
</g>
<rect x="46" y="570" width="571" height="257" filter="url(#nz)" opacity="0.11"/>
<rect x="46" y="570" width="571" height="257" filter="url(#nzw)" opacity="0.11"/>
</g>
<text x="6" y="562.3" font-size="24">kDa</text>
<path d="M6,564.5 L6.0,564.5 L7.6,565.7 L9.2,564.5 L10.8,565.7 L12.4,564.5 L14.0,565.7 L15.6,564.5 L17.2,565.7 L18.8,564.5 L20.4,565.7 L22.0,564.5 L23.6,565.7 L25.2,564.5 L26.8,565.7 L28.4,564.5 L30.0,565.7 L31.6,564.5 L33.2,565.7 L34.8,564.5 L36.4,565.7 L38.0,564.5 L39.6,565.7 L41.2,564.5 L42.8,565.7 L44.4,564.5 L46.0,565.7" stroke="#888" stroke-width="0.8" fill="none"/>
<text x="59.8" y="562.3" font-size="25.5">M</text>
<text x="119.6" y="562.3" font-size="24" text-anchor="middle">1</text>
<text x="165.2" y="562.3" font-size="24" text-anchor="middle">2</text>
<text x="207.4" y="562.3" font-size="24" text-anchor="middle">3</text>
<text x="246.4" y="562.3" font-size="24" text-anchor="middle">4</text>
<text x="290.4" y="562.3" font-size="24" text-anchor="middle">5</text>
<text x="334.4" y="562.3" font-size="24" text-anchor="middle">6</text>
<text x="378.0" y="562.3" font-size="24" text-anchor="middle">7</text>
<text x="423.4" y="562.3" font-size="24" text-anchor="middle">8</text>
<text x="460.6" y="562.3" font-size="24" text-anchor="middle">9</text>
<text x="505.0" y="562.3" font-size="24" text-anchor="middle">10</text>
<text x="548.0" y="562.3" font-size="24" text-anchor="middle">11</text>
<text x="591.0" y="562.3" font-size="24" text-anchor="middle">12</text>
<text x="12.3" y="586.5" font-size="19.8">120</text>
<text x="12.3" y="600.2" font-size="19.8">100</text>
<text x="12.3" y="614.7" font-size="19.8">80</text>
<text x="12.3" y="630.7" font-size="19.8">60</text>
<text x="12.3" y="651.2" font-size="19.8">50</text>
<text x="12.3" y="681.1" font-size="19.8">40</text>
<text x="12.3" y="731.8" font-size="19.8">30</text>
<text x="12.3" y="785.3" font-size="19.8">20</text>
<path d="M619,677.6 H646.8" stroke="#000" stroke-width="1.6"/><path d="M626,673.6 L619,677.6 L626,681.6" stroke="#000" stroke-width="1.6" fill="none"/>
<text x="647.6" y="685.2" font-size="24.8">pelNK93I</text>
</svg></body></html>
